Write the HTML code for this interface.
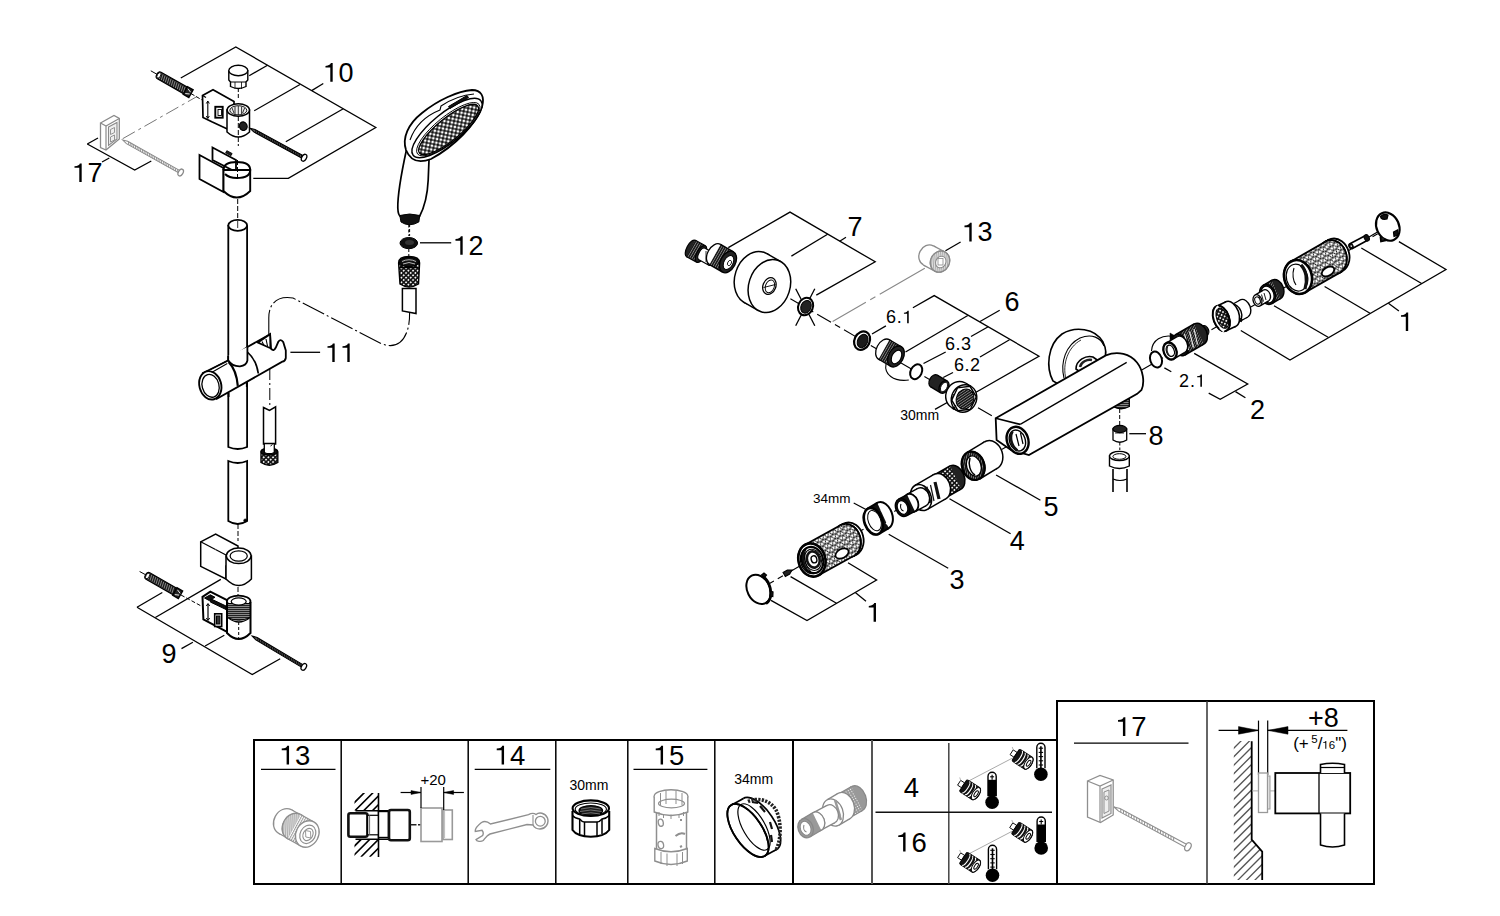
<!DOCTYPE html>
<html><head><meta charset="utf-8"><style>
html,body{margin:0;padding:0;background:#fff;width:1500px;height:916px;overflow:hidden}
svg{display:block;font-family:"Liberation Sans",sans-serif;font-kerning:none}
</style></head><body>
<svg width="1500" height="916" viewBox="0 0 1500 916" font-family="Liberation Sans, sans-serif">
<rect width="1500" height="916" fill="#fff"/>
<g id="table">
<line x1="253" y1="740" x2="1057" y2="740" stroke="#000" stroke-width="2" stroke-linecap="butt"/>
<line x1="254" y1="739" x2="254" y2="885" stroke="#000" stroke-width="2" stroke-linecap="butt"/>
<line x1="253" y1="884" x2="1375" y2="884" stroke="#000" stroke-width="2" stroke-linecap="butt"/>
<line x1="1056" y1="701" x2="1375" y2="701" stroke="#000" stroke-width="2" stroke-linecap="butt"/>
<line x1="1057" y1="700" x2="1057" y2="885" stroke="#000" stroke-width="2" stroke-linecap="butt"/>
<line x1="1374" y1="700" x2="1374" y2="885" stroke="#000" stroke-width="2" stroke-linecap="butt"/>
<line x1="341.2" y1="740" x2="341.2" y2="884" stroke="#000" stroke-width="1.5" stroke-linecap="butt"/>
<line x1="468.2" y1="740" x2="468.2" y2="884" stroke="#000" stroke-width="1.5" stroke-linecap="butt"/>
<line x1="555.8" y1="740" x2="555.8" y2="884" stroke="#000" stroke-width="1.5" stroke-linecap="butt"/>
<line x1="627.8" y1="740" x2="627.8" y2="884" stroke="#000" stroke-width="1.5" stroke-linecap="butt"/>
<line x1="714.8" y1="740" x2="714.8" y2="884" stroke="#000" stroke-width="1.5" stroke-linecap="butt"/>
<line x1="793" y1="740" x2="793" y2="884" stroke="#000" stroke-width="2" stroke-linecap="butt"/>
<line x1="872" y1="740" x2="872" y2="884" stroke="#555" stroke-width="2" stroke-linecap="butt"/>
<line x1="1207" y1="701" x2="1207" y2="884" stroke="#333" stroke-width="1.5" stroke-linecap="butt"/>
<line x1="948.8" y1="743" x2="948.8" y2="884" stroke="#444" stroke-width="1.5" stroke-linecap="butt"/>
<line x1="875.5" y1="812.3" x2="1052" y2="812.3" stroke="#111" stroke-width="1.5" stroke-linecap="butt"/>
<text x="279.71" y="764.6" font-size="27.5" fill="#000" > 3</text>
<path class="t1" d="M286.62,764.60 L289.05,764.60 L289.05,745.68 L287.23,745.68 C286.96,747.14 285.35,748.29 281.72,748.49 L281.72,750.17 L286.62,750.17 Z" fill="#000"/>
<line x1="261" y1="769.4" x2="335.5" y2="769.4" stroke="#000" stroke-width="1.3" stroke-linecap="butt"/>
<text x="494.71" y="764.6" font-size="27.5" fill="#000" > 4</text>
<path class="t1" d="M501.62,764.60 L504.05,764.60 L504.05,745.68 L502.23,745.68 C501.96,747.14 500.35,748.29 496.72,748.49 L496.72,750.17 L501.62,750.17 Z" fill="#000"/>
<line x1="474.7" y1="769.4" x2="550.3" y2="769.4" stroke="#000" stroke-width="1.3" stroke-linecap="butt"/>
<text x="653.71" y="764.6" font-size="27.5" fill="#000" > 5</text>
<path class="t1" d="M660.62,764.60 L663.05,764.60 L663.05,745.68 L661.23,745.68 C660.96,747.14 659.35,748.29 655.72,748.49 L655.72,750.17 L660.62,750.17 Z" fill="#000"/>
<line x1="633.5" y1="769.4" x2="707.4" y2="769.4" stroke="#000" stroke-width="1.3" stroke-linecap="butt"/>
<text x="1116.01" y="736.1" font-size="27.5" fill="#000" > 7</text>
<path class="t1" d="M1122.92,736.10 L1125.35,736.10 L1125.35,717.18 L1123.53,717.18 C1123.26,718.64 1121.65,719.79 1118.02,719.99 L1118.02,721.67 L1122.92,721.67 Z" fill="#000"/>
<line x1="1074" y1="743.2" x2="1188.5" y2="743.2" stroke="#000" stroke-width="1.3" stroke-linecap="butt"/>
<text x="911.5" y="796.6" font-size="27.5" text-anchor="middle" fill="#000" >4</text>
<text x="896.21" y="851.5" font-size="27.5" fill="#000" > 6</text>
<path class="t1" d="M903.12,851.50 L905.55,851.50 L905.55,832.58 L903.73,832.58 C903.46,834.04 901.85,835.19 898.22,835.39 L898.22,837.07 L903.12,837.07 Z" fill="#000"/>
<text x="589" y="790.4" font-size="14" text-anchor="middle" fill="#000" >30mm</text>
<text x="753.7" y="784.3" font-size="14" text-anchor="middle" fill="#000" >34mm</text>
<text x="433.2" y="784.9" font-size="15" text-anchor="middle" fill="#000" >+20</text>
<text x="1323.3" y="727" font-size="27" text-anchor="middle" fill="#000" >+8</text>
<text x="1293.2" y="748.8" font-size="17">(+<tspan font-size="11.5" dx="2.5" dy="-6">5</tspan><tspan dy="6">/</tspan><tspan font-size="11.5"> 6</tspan>")</text>
<path class="t1" d="M1325.30,748.80 L1326.32,748.80 L1326.32,740.89 L1325.55,740.89 C1325.44,741.50 1324.77,741.98 1323.25,742.06 L1323.25,742.76 L1325.30,742.76 Z" fill="#000"/>
</g>
<defs>
<pattern id="dots" width="3" height="3" patternUnits="userSpaceOnUse"><rect width="3" height="3" fill="#111"/><circle cx="1.5" cy="1.5" r="0.7" fill="#fff"/></pattern>
<pattern id="thread" width="2.2" height="4" patternUnits="userSpaceOnUse" patternTransform="rotate(30)"><rect width="2.2" height="4" fill="#1a1a1a"/><rect width="0.5" height="4" fill="#bbb"/></pattern>
<pattern id="threadv" width="4" height="2" patternUnits="userSpaceOnUse"><rect width="4" height="2" fill="#222"/><rect width="4" height="0.6" fill="#ccc"/></pattern>
<pattern id="tri" width="5.6" height="4.85" patternUnits="userSpaceOnUse" patternTransform="rotate(-28)"><rect width="5.6" height="4.85" fill="#fff"/><path d="M-1,0 L6.6,0 M0,0 L2.8,4.85 L5.6,0 M-1,4.85 L6.6,4.85 M-2.8,4.85 L0,0 M5.6,0 L8.4,4.85" stroke="#000" stroke-width="0.85" fill="none"/></pattern>
<pattern id="knurl" width="2.6" height="2.6" patternUnits="userSpaceOnUse" patternTransform="rotate(-30)"><rect width="2.6" height="2.6" fill="#fff"/><circle cx="1.3" cy="1.3" r="0.75" fill="#222"/></pattern>
<pattern id="greythread" width="2" height="2" patternUnits="userSpaceOnUse" patternTransform="rotate(60)"><rect width="2" height="2" fill="#aaa"/><rect width="2" height="0.8" fill="#eee"/></pattern>
<pattern id="gknurl" width="2.6" height="2.6" patternUnits="userSpaceOnUse" patternTransform="rotate(-30)"><rect width="2.6" height="2.6" fill="#999"/><circle cx="1.3" cy="1.3" r="0.55" fill="#fff"/></pattern>
<pattern id="greythread2" width="2.2" height="4" patternUnits="userSpaceOnUse" patternTransform="rotate(28)"><rect width="2.2" height="4" fill="#fff"/><rect width="1" height="4" fill="#999"/></pattern>
<pattern id="spray" width="3.8" height="3.8" patternUnits="userSpaceOnUse" patternTransform="rotate(-40)"><rect width="3.8" height="3.8" fill="#111"/><circle cx="1.9" cy="1.9" r="1.4" fill="#fff"/></pattern>
<pattern id="dots2" width="3.3" height="3.3" patternUnits="userSpaceOnUse" patternTransform="rotate(45)"><rect width="3.3" height="3.3" fill="#111"/><circle cx="1.65" cy="1.65" r="0.95" fill="#fff"/></pattern>
</defs>
<g id="left">
<polyline points="180.8,78 235.8,47 375.8,127.5 288.3,178.3 253.3,178.3" fill="none" stroke="#000" stroke-width="1.3" stroke-linejoin="miter"/>
<line x1="249.2" y1="75.8" x2="267.5" y2="65.2" stroke="#000" stroke-width="1.3" stroke-linecap="butt"/>
<line x1="254.2" y1="110.8" x2="300" y2="84.5" stroke="#000" stroke-width="1.3" stroke-linecap="butt"/>
<line x1="285.8" y1="141.7" x2="343.3" y2="108.8" stroke="#000" stroke-width="1.3" stroke-linecap="butt"/>
<line x1="311.7" y1="90.6" x2="323.3" y2="83.5" stroke="#000" stroke-width="1.3" stroke-linecap="butt"/>
<text x="323.50" y="81.7" font-size="27" fill="#000" > 0</text>
<path class="t1" d="M330.29,81.70 L332.68,81.70 L332.68,63.12 L330.88,63.12 C330.62,64.56 329.04,65.68 325.48,65.88 L325.48,67.53 L330.29,67.53 Z" fill="#000"/>
<line x1="122.7" y1="138.7" x2="197" y2="96.5" stroke="#777" stroke-width="1" stroke-dasharray="14 4 3 4" stroke-linecap="butt"/>
<line x1="150.8" y1="70.8" x2="157" y2="74.3" stroke="#000" stroke-width="1" stroke-linecap="butt"/>
<g transform="translate(157,74.3) rotate(29.6)">
<rect x="0" y="-3.8" width="34.1" height="7.5" fill="#1a1a1a" stroke="#000" stroke-width="1.2" rx="2.5" />
<path d="M3.0,-3.0 l1.3,5.9 M5.3,-3.0 l1.3,5.9 M7.6,-3.0 l1.3,5.9 M9.9,-3.0 l1.3,5.9 M12.2,-3.0 l1.3,5.9 M14.5,-3.0 l1.3,5.9 M16.8,-3.0 l1.3,5.9 M19.1,-3.0 l1.3,5.9 M21.4,-3.0 l1.3,5.9 M23.7,-3.0 l1.3,5.9 M26.0,-3.0 l1.3,5.9 M28.3,-3.0 l1.3,5.9 M30.6,-3.0 l1.3,5.9" fill="none" stroke="#bbb" stroke-width="0.6" />
<ellipse cx="2.2" cy="0" rx="1.6" ry="3.1" fill="#fff" stroke="#000" stroke-width="0.8" />
<rect x="32.6" y="-4.3" width="6.5" height="8.7" fill="#222" stroke="#000" stroke-width="1.4" />
<path d="M34.09590771423526,-2.75 L38.09590771423526,-1 M34.09590771423526,2.75 L38.09590771423526,1" fill="none" stroke="#fff" stroke-width="0.8" />
</g>
<line x1="191" y1="93.6" x2="203" y2="100.5" stroke="#000" stroke-width="1" stroke-dasharray="4 2" stroke-linecap="butt"/>
<line x1="238.3" y1="88" x2="238.3" y2="100" stroke="#000" stroke-width="1" stroke-dasharray="4 2" stroke-linecap="butt"/>
<path d="M228.8,71 L228.8,80 L230.5,82 L230.5,86.5 Q238.3,90.5 246,86.5 L246,82 L247.8,80 L247.8,71 Z" fill="#fff" stroke="#000" stroke-width="1.4" />
<ellipse cx="238.3" cy="70.5" rx="9.5" ry="5.2" fill="#fff" stroke="#000" stroke-width="1.4" />
<line x1="230.5" y1="82" x2="246" y2="82" stroke="#000" stroke-width="1" stroke-linecap="butt"/>
<line x1="235" y1="82" x2="235" y2="89" stroke="#000" stroke-width="0.8" stroke-linecap="butt"/>
<line x1="241.5" y1="82" x2="241.5" y2="89" stroke="#000" stroke-width="0.8" stroke-linecap="butt"/>
<path d="M202.5,95.5 L213,89.8 L234,101.5 L234,131 L226.8,128.7 L211.8,121.8 L203,117.5 Z" fill="#fff" stroke="#000" stroke-width="1.7" />
<line x1="202.5" y1="95.5" x2="206" y2="97.5" stroke="#000" stroke-width="1.2" stroke-linecap="butt"/>
<line x1="207.8" y1="101.5" x2="207.8" y2="118" stroke="#000" stroke-width="1.1" stroke-linecap="butt"/>
<path d="M206.3,103.5 L207.8,101 L209.3,103.5 M206.3,116 L207.8,118.5 L209.3,116" fill="none" stroke="#000" stroke-width="1" />
<rect x="215.3" y="106.8" width="7.4" height="10.9" fill="#fff" stroke="#000" stroke-width="1.9" />
<rect x="218" y="109.5" width="3.5" height="6" fill="#fff" stroke="#000" stroke-width="0.9" />
<path d="M227,110 L227,132 Q238.3,142 249.5,132 L249.5,110 Z" fill="#fff" stroke="#000" stroke-width="1.5" />
<ellipse cx="238.3" cy="110" rx="11.2" ry="6.3" fill="#fff" stroke="#000" stroke-width="1.5" />
<ellipse cx="238.3" cy="110.3" rx="8.5" ry="4.6" fill="#eee" stroke="#000" stroke-width="0.9" />
<path d="M238.3,106 L238.3,115 M232,108 L234,113 M244.6,108 L242.6,113 M235,106.5 l0,8 M241.6,106.5 l0,8" fill="none" stroke="#000" stroke-width="0.8" />
<ellipse cx="243.3" cy="126.2" rx="3.8" ry="4.3" fill="#222" stroke="#000" stroke-width="1.2" transform="rotate(-20 243.3 126.2)" />
<line x1="238.3" y1="116" x2="238.3" y2="146" stroke="#000" stroke-width="1" stroke-dasharray="5 2" stroke-linecap="butt"/>
<g transform="translate(250,128.3) rotate(28.6)">
<path d="M0,0 L5,-1.4 L60.5732142610231,-1.4 L60.5732142610231,1.4 L5,1.4 Z" fill="#555" stroke="#000" stroke-width="1" />
<path d="M6.0,-1.4 l1.2,2.8 M8.0,-1.4 l1.2,2.8 M10.0,-1.4 l1.2,2.8 M12.0,-1.4 l1.2,2.8 M14.0,-1.4 l1.2,2.8 M16.0,-1.4 l1.2,2.8 M18.0,-1.4 l1.2,2.8 M20.0,-1.4 l1.2,2.8 M22.0,-1.4 l1.2,2.8 M24.0,-1.4 l1.2,2.8 M26.0,-1.4 l1.2,2.8 M28.0,-1.4 l1.2,2.8 M30.0,-1.4 l1.2,2.8 M32.0,-1.4 l1.2,2.8 M34.0,-1.4 l1.2,2.8 M36.0,-1.4 l1.2,2.8 M38.0,-1.4 l1.2,2.8 M40.0,-1.4 l1.2,2.8 M42.0,-1.4 l1.2,2.8 M44.0,-1.4 l1.2,2.8 M46.0,-1.4 l1.2,2.8 M48.0,-1.4 l1.2,2.8 M50.0,-1.4 l1.2,2.8 M52.0,-1.4 l1.2,2.8 M54.0,-1.4 l1.2,2.8 M56.0,-1.4 l1.2,2.8 M58.0,-1.4 l1.2,2.8" fill="none" stroke="#000" stroke-width="0.9" />
<ellipse cx="61.6" cy="0" rx="2.3" ry="3.7" fill="#fff" stroke="#000" stroke-width="1.3" />
</g>
<path d="M212.5,147.5 L236,160 L236,172 L212.5,160 Z" fill="#fff" stroke="#000" stroke-width="1.8" />
<rect x="226" y="152" width="6" height="2.4" fill="#222" stroke="#000" stroke-width="0.8" transform="rotate(28 229 153)"/>
<path d="M199.5,155 L223.5,168 L223.5,192 L199.5,179 Z" fill="#fff" stroke="#000" stroke-width="1.8" />
<path d="M223.5,170 L223.5,191 Q236.8,204 250.2,191 L250.2,170 Z" fill="#fff" stroke="#000" stroke-width="1.9" />
<path d="M223.5,170 Q223.5,162 236.8,162 Q250.2,162 250.2,170 Q250.2,178 236.8,178 Q229,178 225,174" fill="none" stroke="#000" stroke-width="2" />
<line x1="237.5" y1="160" x2="237.5" y2="180" stroke="#000" stroke-width="1" stroke-dasharray="5 2" stroke-linecap="butt"/>
<line x1="87.3" y1="144" x2="98" y2="138" stroke="#000" stroke-width="1.3" stroke-linecap="butt"/>
<polyline points="87.3,144 134.7,170 151.3,161" fill="none" stroke="#000" stroke-width="1.3" stroke-linejoin="miter"/>
<line x1="102" y1="162" x2="109.3" y2="158" stroke="#000" stroke-width="1.3" stroke-linecap="butt"/>
<text x="72.50" y="182" font-size="27" fill="#000" > 7</text>
<path class="t1" d="M79.29,182.00 L81.68,182.00 L81.68,163.42 L79.88,163.42 C79.62,164.86 78.04,165.98 74.48,166.18 L74.48,167.83 L79.29,167.83 Z" fill="#000"/>
<path d="M100.5,123 L114,115.5 L119.3,118.5 L119.3,139 L106,150 L100.5,147.5 Z" fill="#fff" stroke="#8a8a8a" stroke-width="1.3" />
<line x1="100.5" y1="123" x2="106" y2="126" stroke="#8a8a8a" stroke-width="1.2" stroke-linecap="butt"/>
<line x1="106" y1="126" x2="119.3" y2="118.5" stroke="#8a8a8a" stroke-width="1.2" stroke-linecap="butt"/>
<line x1="106" y1="126" x2="106" y2="150" stroke="#8a8a8a" stroke-width="1.2" stroke-linecap="butt"/>
<path d="M108.5,127 L117,122.5 L117,139 L108.5,145.5 Z" fill="#eee" stroke="#8a8a8a" stroke-width="1.1" />
<path d="M110.5,129.5 L114.5,127.5 L114.5,132.5 L110.5,134.5 Z M110.5,137 L114.5,135 L114.5,140 L110.5,142 Z" fill="none" stroke="#8a8a8a" stroke-width="0.9" />
<g transform="translate(122.7,140) rotate(29.3)">
<path d="M0,0 L5,-1.3 L65.48640154735314,-1.3 L65.48640154735314,1.3 L5,1.3 Z" fill="#fff" stroke="#8a8a8a" stroke-width="1" />
<path d="M6.0,-1.3 l1.2,2.6 M8.0,-1.3 l1.2,2.6 M10.0,-1.3 l1.2,2.6 M12.0,-1.3 l1.2,2.6 M14.0,-1.3 l1.2,2.6 M16.0,-1.3 l1.2,2.6 M18.0,-1.3 l1.2,2.6 M20.0,-1.3 l1.2,2.6 M22.0,-1.3 l1.2,2.6 M24.0,-1.3 l1.2,2.6 M26.0,-1.3 l1.2,2.6 M28.0,-1.3 l1.2,2.6 M30.0,-1.3 l1.2,2.6 M32.0,-1.3 l1.2,2.6 M34.0,-1.3 l1.2,2.6 M36.0,-1.3 l1.2,2.6 M38.0,-1.3 l1.2,2.6 M40.0,-1.3 l1.2,2.6 M42.0,-1.3 l1.2,2.6 M44.0,-1.3 l1.2,2.6 M46.0,-1.3 l1.2,2.6 M48.0,-1.3 l1.2,2.6 M50.0,-1.3 l1.2,2.6 M52.0,-1.3 l1.2,2.6 M54.0,-1.3 l1.2,2.6 M56.0,-1.3 l1.2,2.6 M58.0,-1.3 l1.2,2.6 M60.0,-1.3 l1.2,2.6 M62.0,-1.3 l1.2,2.6" fill="none" stroke="#8a8a8a" stroke-width="0.9" />
<ellipse cx="66.5" cy="0" rx="2.3" ry="3.7" fill="#fff" stroke="#8a8a8a" stroke-width="1.3" />
</g>
<line x1="237.7" y1="199" x2="237.7" y2="225" stroke="#000" stroke-width="1" stroke-dasharray="5 2" stroke-linecap="butt"/>
<path d="M228.3,225 L228.3,447 Q237.7,451 247.1,447 L247.1,225" fill="#fff" stroke="#000" stroke-width="1.8" />
<ellipse cx="237.7" cy="225.3" rx="9.4" ry="5.5" fill="#fff" stroke="#000" stroke-width="1.8" />
<line x1="237.7" y1="221" x2="237.7" y2="228" stroke="#000" stroke-width="0.8" stroke-linecap="butt"/>
<path d="M228.3,461 Q237.7,465 247.1,461 L247.1,521 Q237.7,527 228.3,521 Z" fill="#fff" stroke="#000" stroke-width="1.8" />
<ellipse cx="245.3" cy="520.5" rx="1.6" ry="1.6" fill="#000" stroke="#000" stroke-width="0.6" />
<path d="M268.8,334 L268.8,318 C268.8,300 281,296 293,298 L381,343.5 C398,351 410,338 409.6,313" fill="none" stroke="#000" stroke-width="1.1" stroke-dasharray="24 3 2 3"/>
<path d="M203,373 L228.2,360.5 L247.4,347 L270.1,334.2 L271,348.6 Q273.6,352 275.8,347.5 L278.3,341.8 Q280.8,338.2 283.2,342 L285.8,350.5 L285.8,358 Q285.2,361.2 282.3,361.7 L216.8,398.8 Z" fill="#fff" stroke="#000" stroke-width="1.8" />
<path d="M257.9,342.5 L270.1,334.2 L270.4,348.2 Z" fill="#fff" stroke="#000" stroke-width="1.8" />
<path d="M262,341.5 L264,345.5 M266,339 L267.5,346" fill="none" stroke="#000" stroke-width="1.1" />
<path d="M228.2,356 L228.2,360.3 Q232,366.5 240,366.3 Q246.5,365.5 247.4,360.5 L247.4,347" fill="#fff" stroke="#000" stroke-width="1.8" />
<line x1="228.6" y1="393" x2="228.6" y2="397" stroke="#000" stroke-width="1.8" stroke-linecap="butt"/>
<line x1="246.8" y1="383" x2="246.8" y2="387" stroke="#000" stroke-width="1.8" stroke-linecap="butt"/>
<ellipse cx="210.3" cy="385.3" rx="10.9" ry="14.4" fill="#fff" stroke="#000" stroke-width="1.9" transform="rotate(-15 210.3 385.3)" />
<ellipse cx="210.6" cy="385.8" rx="8.4" ry="11.6" fill="#fff" stroke="#000" stroke-width="1.3" transform="rotate(-15 210.6 385.8)" />
<path d="M228.6,361.9 Q236.5,370 237.8,385.8" fill="none" stroke="#000" stroke-width="2.2" />
<path d="M247.4,352.1 Q256.5,360 258.3,373.5" fill="none" stroke="#000" stroke-width="1.7" />
<path d="M210.7,369.5 L226.9,360.8 M211.6,372.4 L227.3,363.6" fill="none" stroke="#000" stroke-width="1.1" />
<line x1="290.4" y1="352.3" x2="320.1" y2="352.3" stroke="#000" stroke-width="1.3" stroke-linecap="butt"/>
<text x="325.50" y="362" font-size="27" fill="#000" >  </text>
<path class="t1" d="M332.29,362.00 L334.68,362.00 L334.68,343.42 L332.88,343.42 C332.62,344.86 331.04,345.98 327.48,346.18 L327.48,347.83 L332.29,347.83 Z" fill="#000"/>
<path class="t1" d="M347.31,362.00 L349.69,362.00 L349.69,343.42 L347.90,343.42 C347.64,344.86 346.05,345.98 342.49,346.18 L342.49,347.83 L347.31,347.83 Z" fill="#000"/>
<line x1="269.8" y1="368" x2="269.8" y2="408" stroke="#000" stroke-width="1" stroke-dasharray="12 3 2 3" stroke-linecap="butt"/>
<path d="M263.5,407.5 L269.5,410.5 L275.6,406.8 L275.6,444 L263.5,444 Z" fill="#fff" stroke="#000" stroke-width="1.5" />
<path d="M261,452 Q261,448.5 269.3,448.5 Q277.8,448.5 277.8,452 L277.8,462.5 Q269.3,468 261,462.5 Z" fill="url(#dots2)" stroke="#000" stroke-width="1.4" />
<ellipse cx="269.3" cy="451.8" rx="8.3" ry="3.4" fill="#111" stroke="#000" stroke-width="1.3" />
<path d="M264.3,443.5 L264.3,452.5 Q269.3,455 274.3,452.5 L274.3,443.5 Z" fill="#fff" stroke="#000" stroke-width="1.3" />
<line x1="270.5" y1="446" x2="272.5" y2="444.5" stroke="#000" stroke-width="1" stroke-linecap="butt"/>
<line x1="408.8" y1="224.5" x2="408.8" y2="236" stroke="#000" stroke-width="1" stroke-dasharray="3 2" stroke-linecap="butt"/>
<line x1="408.8" y1="249" x2="408.8" y2="256" stroke="#000" stroke-width="1" stroke-dasharray="3 2" stroke-linecap="butt"/>
<ellipse cx="408.8" cy="243.1" rx="8.8" ry="5.6" fill="#111" stroke="#000" stroke-width="1" />
<ellipse cx="409.5" cy="242.6" rx="4.5" ry="2.5" fill="#333" stroke="none" stroke-width="0" />
<line x1="420" y1="242.8" x2="451.2" y2="242.8" stroke="#000" stroke-width="1.3" stroke-linecap="butt"/>
<text x="453.50" y="254.8" font-size="27" fill="#000" > 2</text>
<path class="t1" d="M460.29,254.80 L462.68,254.80 L462.68,236.22 L460.88,236.22 C460.62,237.66 459.04,238.78 455.48,238.98 L455.48,240.63 L460.29,240.63 Z" fill="#000"/>
<path d="M398.6,263 Q398.6,256.5 409,256.5 Q419.6,256.5 419.6,263 L418.5,284 Q409,290 400,284 Z" fill="url(#dots2)" stroke="#000" stroke-width="1.4" />
<ellipse cx="409" cy="262" rx="9.5" ry="4.6" fill="#111" stroke="#000" stroke-width="1.2" />
<line x1="400" y1="267.5" x2="418" y2="267.5" stroke="#000" stroke-width="1.6" stroke-linecap="butt"/>
<path d="M402,261.5 Q409,258 416,261.5 M403,264 Q409,261 415,264" fill="none" stroke="#fff" stroke-width="0.7" />
<path d="M402.4,288.5 L416,288.5 L416,313.5 L402.4,311 Z" fill="#fff" stroke="#000" stroke-width="1.5" />
<line x1="409.6" y1="224" x2="409.6" y2="236" stroke="#000" stroke-width="1" stroke-dasharray="3 2" stroke-linecap="butt"/>
<path d="M406.4,150 C401,175 397.5,195 397.8,208 C398,213 399.5,216 400.5,216.5 L419.5,216.5 C424,208 427.5,195 428.2,180 L429,159.7 Z" fill="#fff" stroke="#000" stroke-width="1.7" />
<path d="M399.8,215.5 Q409.5,212.5 419.8,215.5 L418.8,222 Q409.3,227.5 401,222 Z" fill="#111" stroke="#000" stroke-width="1" />
<path d="M406,150 C402,138 408,124 422,113 C438,100 458,91 472,90 C481,90 485,96 482,107 C476,124 455,146 431,159 C418,164 410,160 406,150 Z" fill="#fff" stroke="#000" stroke-width="1.8" />
<ellipse cx="447" cy="128" rx="43.5" ry="14.8" fill="#fff" stroke="#000" stroke-width="1.5" transform="rotate(-39 447 128)" />
<ellipse cx="448.3" cy="129.2" rx="39.5" ry="12.6" fill="none" stroke="#000" stroke-width="0.9" transform="rotate(-39 448.3 129.2)" />
<ellipse cx="448.6" cy="129.5" rx="37.5" ry="11.2" fill="url(#spray)" stroke="#000" stroke-width="1.4" transform="rotate(-39 448.6 129.5)" />
<path d="M410,140 C415,126 425,116 440,110 L441,106 C450,100 462,95 474,94" fill="none" stroke="#000" stroke-width="1.1" />
<path d="M448.5,106.5 L467,95.5 L468.5,97.5 L450,108.5 Z" fill="#111" stroke="#000" stroke-width="1" />
</g>
<g id="p9">
<line x1="238" y1="524" x2="238" y2="541" stroke="#000" stroke-width="1" stroke-dasharray="5 2" stroke-linecap="butt"/>
<line x1="238" y1="587" x2="238" y2="600" stroke="#000" stroke-width="1" stroke-dasharray="5 2" stroke-linecap="butt"/>
<path d="M200.7,541.8 L215.6,534 L238,546 L238,560 L226,566 L226,579 L200.7,566.3 Z" fill="#fff" stroke="#000" stroke-width="1.5" />
<line x1="200.7" y1="541.8" x2="215.5" y2="549.5" stroke="#000" stroke-width="1.2" stroke-linecap="butt"/>
<line x1="215.5" y1="549.5" x2="226" y2="555" stroke="#000" stroke-width="1.2" stroke-linecap="butt"/>
<path d="M226,556 L226,579 Q238.7,592 251.4,579 L251.4,556 Z" fill="#fff" stroke="#000" stroke-width="1.5" />
<ellipse cx="238.7" cy="555.8" rx="12.4" ry="7.8" fill="#fff" stroke="#000" stroke-width="1.5" />
<ellipse cx="238.7" cy="556" rx="8.6" ry="5.2" fill="#fff" stroke="#000" stroke-width="1.2" />
<path d="M202.5,596.8 L210.3,591.6 L227,600 L227,631.8 L203.4,619.5 Z" fill="#fff" stroke="#000" stroke-width="2" />
<path d="M210.3,598.6 L226,606 L226,609.5 L210.3,602 Z" fill="#111" stroke="#000" stroke-width="1" />
<path d="M204.5,598 L210.3,594.8 L215,597.3 L209.2,600.5 Z" fill="#111" stroke="#000" stroke-width="1" />
<line x1="208" y1="604" x2="208" y2="620" stroke="#000" stroke-width="1.2" stroke-linecap="butt"/>
<path d="M206.3,606 L208,603.5 L209.7,606 M206.3,618 L208,620.5 L209.7,618" fill="none" stroke="#000" stroke-width="1" />
<rect x="214.7" y="613.8" width="7" height="12.7" fill="#fff" stroke="#000" stroke-width="1.6" />
<rect x="216.5" y="616" width="3.4" height="8" fill="#333" stroke="#000" stroke-width="1" />
<path d="M227,603 L227,633 Q238.7,645 250.5,633 L250.5,603 Z" fill="#fff" stroke="#000" stroke-width="2" />
<ellipse cx="238.7" cy="601.2" rx="11.8" ry="5.6" fill="#fff" stroke="#000" stroke-width="1.8" />
<path d="M227.5,603.5 L250,603.5 L250,617.5 Q238.7,623 227.5,617.5 Z" fill="url(#threadv)" stroke="#000" stroke-width="1" />
<ellipse cx="238.7" cy="601.5" rx="7.5" ry="3.6" fill="#fff" stroke="#000" stroke-width="1.2" />
<path d="M228.5,618 Q238.7,626 249.5,618" fill="none" stroke="#000" stroke-width="1.3" />
<line x1="238.7" y1="622" x2="238.7" y2="642" stroke="#000" stroke-width="1" stroke-dasharray="3 2" stroke-linecap="butt"/>
<line x1="139.6" y1="571.5" x2="145.7" y2="574.8" stroke="#000" stroke-width="1" stroke-linecap="butt"/>
<g transform="translate(145.7,574.8) rotate(29.8)">
<rect x="0" y="-3.8" width="35.1" height="7.5" fill="#1a1a1a" stroke="#000" stroke-width="1.2" rx="2.5" />
<path d="M3.0,-3.0 l1.3,5.9 M5.3,-3.0 l1.3,5.9 M7.6,-3.0 l1.3,5.9 M9.9,-3.0 l1.3,5.9 M12.2,-3.0 l1.3,5.9 M14.5,-3.0 l1.3,5.9 M16.8,-3.0 l1.3,5.9 M19.1,-3.0 l1.3,5.9 M21.4,-3.0 l1.3,5.9 M23.7,-3.0 l1.3,5.9 M26.0,-3.0 l1.3,5.9 M28.3,-3.0 l1.3,5.9 M30.6,-3.0 l1.3,5.9" fill="none" stroke="#bbb" stroke-width="0.6" />
<ellipse cx="2.2" cy="0" rx="1.6" ry="3.1" fill="#fff" stroke="#000" stroke-width="0.8" />
<rect x="33.6" y="-4.3" width="6.5" height="8.7" fill="#222" stroke="#000" stroke-width="1.4" />
<path d="M35.088028138086365,-2.75 L39.088028138086365,-1 M35.088028138086365,2.75 L39.088028138086365,1" fill="none" stroke="#fff" stroke-width="0.8" />
</g>
<line x1="181" y1="595" x2="203" y2="607" stroke="#000" stroke-width="1" stroke-dasharray="4 2" stroke-linecap="butt"/>
<g transform="translate(252.2,636.1) rotate(30.8)">
<path d="M0,0 L5,-1.4 L59.09461149733784,-1.4 L59.09461149733784,1.4 L5,1.4 Z" fill="#555" stroke="#000" stroke-width="1" />
<path d="M6.0,-1.4 l1.2,2.8 M8.0,-1.4 l1.2,2.8 M10.0,-1.4 l1.2,2.8 M12.0,-1.4 l1.2,2.8 M14.0,-1.4 l1.2,2.8 M16.0,-1.4 l1.2,2.8 M18.0,-1.4 l1.2,2.8 M20.0,-1.4 l1.2,2.8 M22.0,-1.4 l1.2,2.8 M24.0,-1.4 l1.2,2.8 M26.0,-1.4 l1.2,2.8 M28.0,-1.4 l1.2,2.8 M30.0,-1.4 l1.2,2.8 M32.0,-1.4 l1.2,2.8 M34.0,-1.4 l1.2,2.8 M36.0,-1.4 l1.2,2.8 M38.0,-1.4 l1.2,2.8 M40.0,-1.4 l1.2,2.8 M42.0,-1.4 l1.2,2.8 M44.0,-1.4 l1.2,2.8 M46.0,-1.4 l1.2,2.8 M48.0,-1.4 l1.2,2.8 M50.0,-1.4 l1.2,2.8 M52.0,-1.4 l1.2,2.8 M54.0,-1.4 l1.2,2.8 M56.0,-1.4 l1.2,2.8" fill="none" stroke="#000" stroke-width="0.9" />
<ellipse cx="60.1" cy="0" rx="2.3" ry="3.7" fill="#fff" stroke="#000" stroke-width="1.3" />
</g>
<line x1="137" y1="607.3" x2="162.3" y2="592.5" stroke="#000" stroke-width="1.3" stroke-linecap="butt"/>
<polyline points="137,607.3 252.2,674.6 280.2,658.8" fill="none" stroke="#000" stroke-width="1.3" stroke-linejoin="miter"/>
<line x1="155.3" y1="617.5" x2="220.8" y2="579.4" stroke="#000" stroke-width="1.3" stroke-linecap="butt"/>
<line x1="205.1" y1="646" x2="224.3" y2="635.3" stroke="#000" stroke-width="1.3" stroke-linecap="butt"/>
<line x1="181.5" y1="648.6" x2="192.9" y2="642.2" stroke="#000" stroke-width="1.3" stroke-linecap="butt"/>
<text x="161.5" y="663.2" font-size="27" text-anchor="start" fill="#000" >9</text>
</g>
<g id="right">
<line x1="736.8" y1="267.5" x2="996" y2="418.2" stroke="#000" stroke-width="1.1" stroke-dasharray="16 4.5 6 4.5" stroke-linecap="butt"/>
<line x1="760" y1="589" x2="1006" y2="447" stroke="#000" stroke-width="1.1" stroke-dasharray="16 4.5 6 4.5" stroke-linecap="butt"/>
<line x1="1140" y1="371" x2="1386" y2="229" stroke="#000" stroke-width="1.1" stroke-dasharray="16 4.5 6 4.5" stroke-linecap="butt"/>
<polyline points="728.3,247.6 790,212.1 875.2,261.8 816.3,295.1" fill="none" stroke="#000" stroke-width="1.3" stroke-linejoin="miter"/>
<line x1="791.4" y1="256.1" x2="827.6" y2="234.2" stroke="#000" stroke-width="1.3" stroke-linecap="butt"/>
<line x1="839.7" y1="241.2" x2="846" y2="237.3" stroke="#000" stroke-width="1.3" stroke-linecap="butt"/>
<text x="847.5" y="236.2" font-size="27" text-anchor="start" fill="#000" >7</text>
<ellipse cx="691" cy="248.5" rx="4.2" ry="9.3" fill="#222" stroke="#000" stroke-width="1.2" transform="rotate(28 691 248.5)" />
<polygon points="695.4,240.3 705.4,245.8 696.6,262.2 686.6,256.7" fill="url(#thread)" stroke="none" stroke-width="0" stroke-linejoin="miter"/>
<line x1="695.4" y1="240.3" x2="705.4" y2="245.8" stroke="#000" stroke-width="1.2" stroke-linecap="butt"/>
<line x1="686.6" y1="256.7" x2="696.6" y2="262.2" stroke="#000" stroke-width="1.2" stroke-linecap="butt"/>
<ellipse cx="701" cy="254" rx="4.2" ry="9.3" fill="#222" stroke="#000" stroke-width="1.2" transform="rotate(28 701 254)" />
<ellipse cx="702" cy="254" rx="3.2" ry="6.5" fill="#fff" stroke="#000" stroke-width="1.2" transform="rotate(28 702 254)" />
<polygon points="705.1,248.3 715.1,253.8 708.9,265.2 698.9,259.7" fill="#fff" stroke="none" stroke-width="0" stroke-linejoin="miter"/>
<line x1="705.1" y1="248.3" x2="715.1" y2="253.8" stroke="#000" stroke-width="1.2" stroke-linecap="butt"/>
<line x1="698.9" y1="259.7" x2="708.9" y2="265.2" stroke="#000" stroke-width="1.2" stroke-linecap="butt"/>
<ellipse cx="712" cy="259.5" rx="3.2" ry="6.5" fill="#fff" stroke="#000" stroke-width="1.2" transform="rotate(28 712 259.5)" />
<path d="M706,251 L706,262 M709,252.5 L709,263" fill="none" stroke="#000" stroke-width="0.8" />
<ellipse cx="715" cy="254.5" rx="7.5" ry="11.5" fill="#fff" stroke="#000" stroke-width="1.3" transform="rotate(28 715 254.5)" />
<polygon points="720.5,244.4 733.5,251.9 722.5,272.1 709.5,264.6" fill="url(#thread)" stroke="none" stroke-width="0" stroke-linejoin="miter"/>
<line x1="720.5" y1="244.4" x2="733.5" y2="251.9" stroke="#000" stroke-width="1.3" stroke-linecap="butt"/>
<line x1="709.5" y1="264.6" x2="722.5" y2="272.1" stroke="#000" stroke-width="1.3" stroke-linecap="butt"/>
<ellipse cx="728" cy="262" rx="7.5" ry="11.5" fill="#222" stroke="#000" stroke-width="1.3" transform="rotate(28 728 262)" />
<ellipse cx="728.5" cy="262.5" rx="4.5" ry="7.5" fill="#fff" stroke="#000" stroke-width="1" transform="rotate(28 728.5 262.5)" />
<ellipse cx="729.5" cy="263" rx="1.8" ry="2.8" fill="#fff" stroke="#000" stroke-width="0.8" transform="rotate(28 729.5 263)" />
<ellipse cx="755.5" cy="278" rx="20.6" ry="27" fill="#fff" stroke="#000" stroke-width="1.5" transform="rotate(18 755.5 278)" />
<polygon points="766.9,253.7 780.8,261.7 758,310.3 744.1,302.3" fill="#fff" stroke="none" stroke-width="0" stroke-linejoin="miter"/>
<line x1="766.9" y1="253.7" x2="780.8" y2="261.7" stroke="#000" stroke-width="1.5" stroke-linecap="butt"/>
<line x1="744.1" y1="302.3" x2="758" y2="310.3" stroke="#000" stroke-width="1.5" stroke-linecap="butt"/>
<ellipse cx="769.4" cy="286" rx="20.6" ry="27" fill="#fff" stroke="#000" stroke-width="1.5" transform="rotate(18 769.4 286)" />
<ellipse cx="769.4" cy="286" rx="6.4" ry="8.6" fill="#fff" stroke="#000" stroke-width="1.3" transform="rotate(21 769.4 286)" />
<ellipse cx="769.9" cy="286.3" rx="4.4" ry="6.6" fill="#fff" stroke="#000" stroke-width="0.9" transform="rotate(21 769.9 286.3)" />
<line x1="763.5" y1="287.5" x2="775.5" y2="284.5" stroke="#000" stroke-width="0.9" stroke-linecap="butt"/>
<line x1="795.7" y1="288.7" x2="814.8" y2="325.7" stroke="#000" stroke-width="1.3" stroke-linecap="butt"/>
<line x1="814.8" y1="288.7" x2="795.7" y2="325.7" stroke="#000" stroke-width="1.3" stroke-linecap="butt"/>
<ellipse cx="805.6" cy="306.5" rx="7.3" ry="9" fill="#fff" stroke="#000" stroke-width="2" transform="rotate(24 805.6 306.5)" />
<ellipse cx="806" cy="306.8" rx="5" ry="6.6" fill="#222" stroke="#000" stroke-width="1" transform="rotate(24 806 306.8)" />
<line x1="924.8" y1="268.3" x2="832.6" y2="321.4" stroke="#888" stroke-width="1.1" stroke-dasharray="52 5 6 5" stroke-linecap="butt"/>
<ellipse cx="928.5" cy="255.5" rx="9.4" ry="10.8" fill="#fff" stroke="#8a8a8a" stroke-width="1.3" transform="rotate(26 928.5 255.5)" />
<polygon points="933.5,245.9 945,252 935,271.2 923.5,265.1" fill="#fff" stroke="none" stroke-width="0" stroke-linejoin="miter"/>
<line x1="933.5" y1="245.9" x2="945" y2="252" stroke="#8a8a8a" stroke-width="1.3" stroke-linecap="butt"/>
<line x1="923.5" y1="265.1" x2="935" y2="271.2" stroke="#8a8a8a" stroke-width="1.3" stroke-linecap="butt"/>
<ellipse cx="940" cy="261.6" rx="9.4" ry="10.8" fill="#fff" stroke="#8a8a8a" stroke-width="1.3" transform="rotate(26 940 261.6)" />
<ellipse cx="940" cy="261.6" rx="9.4" ry="10.8" fill="url(#greythread)" stroke="#8a8a8a" stroke-width="1.3" transform="rotate(26 940 261.6)" />
<ellipse cx="940.8" cy="262" rx="5" ry="6" fill="#fff" stroke="#888" stroke-width="1" transform="rotate(26 940.8 262)" />
<rect x="938" y="258.5" width="5" height="6.5" fill="none" stroke="#888" stroke-width="0.8" />
<line x1="945.5" y1="250.8" x2="960.6" y2="242" stroke="#000" stroke-width="1.3" stroke-linecap="butt"/>
<text x="962.50" y="241.4" font-size="27" fill="#000" > 3</text>
<path class="t1" d="M969.29,241.40 L971.68,241.40 L971.68,222.82 L969.88,222.82 C969.62,224.26 968.04,225.38 964.48,225.58 L964.48,227.23 L969.29,227.23 Z" fill="#000"/>
<polyline points="912.9,307.8 934.2,295.6 1039,356.2 976,392.2" fill="none" stroke="#000" stroke-width="1.3" stroke-linejoin="miter"/>
<line x1="905.5" y1="352" x2="967.8" y2="315.5" stroke="#000" stroke-width="1.3" stroke-linecap="butt"/>
<line x1="971" y1="336.5" x2="988.2" y2="326.8" stroke="#000" stroke-width="1.3" stroke-linecap="butt"/>
<line x1="980" y1="357" x2="1009.5" y2="339.8" stroke="#000" stroke-width="1.3" stroke-linecap="butt"/>
<line x1="980" y1="321.5" x2="999.7" y2="310.2" stroke="#000" stroke-width="1.3" stroke-linecap="butt"/>
<text x="1004.5" y="311.1" font-size="27" text-anchor="start" fill="#000" >6</text>
<text x="886.00" y="323.2" font-size="18" fill="#000"  letter-spacing="0.8">6. </text>
<path class="t1" d="M907.14,323.20 L908.73,323.20 L908.73,310.82 L907.53,310.82 C907.36,311.77 906.30,312.52 903.93,312.65 L903.93,313.75 L907.14,313.75 Z" fill="#000"/>
<line x1="872" y1="334" x2="885.9" y2="325.9" stroke="#000" stroke-width="1.3" stroke-linecap="butt"/>
<text x="945.1" y="350.2" font-size="18" text-anchor="start" fill="#000"  letter-spacing="0.5">6.3</text>
<line x1="923.5" y1="363.5" x2="945.7" y2="352" stroke="#000" stroke-width="1.3" stroke-linecap="butt"/>
<text x="954.1" y="370.8" font-size="18" text-anchor="start" fill="#000"  letter-spacing="0.5">6.2</text>
<line x1="943.2" y1="377.5" x2="953" y2="372.5" stroke="#000" stroke-width="1.3" stroke-linecap="butt"/>
<text x="900.3" y="420" font-size="14" text-anchor="start" fill="#000" >30mm</text>
<line x1="935" y1="409.4" x2="948.1" y2="402" stroke="#000" stroke-width="1.3" stroke-linecap="butt"/>
<ellipse cx="862.1" cy="340.6" rx="7.6" ry="9.6" fill="#fff" stroke="#000" stroke-width="2.2" transform="rotate(26 862.1 340.6)" />
<ellipse cx="862.6" cy="341" rx="5" ry="7" fill="#1a1a1a" stroke="#000" stroke-width="1" transform="rotate(26 862.6 341)" />
<ellipse cx="884" cy="349.5" rx="7.4" ry="11.2" fill="#fff" stroke="#000" stroke-width="1.3" transform="rotate(28 884 349.5)" />
<polygon points="889.4,339.7 901.4,346.7 890.6,366.3 878.6,359.3" fill="url(#thread)" stroke="none" stroke-width="0" stroke-linejoin="miter"/>
<line x1="889.4" y1="339.7" x2="901.4" y2="346.7" stroke="#000" stroke-width="1.3" stroke-linecap="butt"/>
<line x1="878.6" y1="359.3" x2="890.6" y2="366.3" stroke="#000" stroke-width="1.3" stroke-linecap="butt"/>
<ellipse cx="896" cy="356.5" rx="7.4" ry="11.2" fill="#222" stroke="#000" stroke-width="1.3" transform="rotate(28 896 356.5)" />
<ellipse cx="896.5" cy="357" rx="4.6" ry="7.3" fill="#fff" stroke="#000" stroke-width="1.2" transform="rotate(28 896.5 357)" />
<path d="M886,364 C884,374 893,382 908.8,380" fill="none" stroke="#000" stroke-width="1.1" />
<ellipse cx="916.2" cy="371.7" rx="5.6" ry="7.8" fill="#fff" stroke="#000" stroke-width="2" transform="rotate(26 916.2 371.7)" />
<ellipse cx="934" cy="381" rx="4.5" ry="6.8" fill="#222" stroke="#000" stroke-width="1.3" transform="rotate(28 934 381)" />
<polygon points="937.3,375.1 947.3,381.1 940.7,392.9 930.7,386.9" fill="#222" stroke="none" stroke-width="0" stroke-linejoin="miter"/>
<line x1="937.3" y1="375.1" x2="947.3" y2="381.1" stroke="#000" stroke-width="1.3" stroke-linecap="butt"/>
<line x1="930.7" y1="386.9" x2="940.7" y2="392.9" stroke="#000" stroke-width="1.3" stroke-linecap="butt"/>
<ellipse cx="944" cy="387" rx="4.5" ry="6.8" fill="#222" stroke="#000" stroke-width="1.3" transform="rotate(28 944 387)" />
<ellipse cx="944" cy="387" rx="3" ry="5" fill="#fff" stroke="#000" stroke-width="0.8" transform="rotate(28 944 387)" />
<ellipse cx="958.5" cy="395.2" rx="12.5" ry="14" fill="#fff" stroke="#000" stroke-width="1.4" transform="rotate(26 958.5 395.2)" />
<polygon points="965.5,383.1 971,386.4 957,410.6 951.5,407.3" fill="#fff" stroke="none" stroke-width="0" stroke-linejoin="miter"/>
<line x1="965.5" y1="383.1" x2="971" y2="386.4" stroke="#000" stroke-width="1.4" stroke-linecap="butt"/>
<line x1="951.5" y1="407.3" x2="957" y2="410.6" stroke="#000" stroke-width="1.4" stroke-linecap="butt"/>
<ellipse cx="964" cy="398.5" rx="12.5" ry="14" fill="#fff" stroke="#000" stroke-width="1.4" transform="rotate(26 964 398.5)" />
<polygon points="970.4,409.2 958,410.7 951.7,400.1 957.6,387.8 970,386.3 976.3,396.9" fill="#fff" stroke="#000" stroke-width="1.4" stroke-linejoin="miter"/>
<ellipse cx="965" cy="399" rx="8.6" ry="10.3" fill="url(#thread)" stroke="#000" stroke-width="1" transform="rotate(26 965 399)" />
<path d="M953.5,394 L951.5,401 M956,405 L953,410" fill="none" stroke="#000" stroke-width="0.9" />
<path d="M1053,381 C1046,368 1047,345 1062,334 C1075,326 1095,328 1103,342 C1107,350 1106,356 1104,360 L1060,385 Z" fill="#fff" stroke="#000" stroke-width="1.6" />
<path d="M1064,378 C1060,362 1066,345 1080,338 C1092,333 1101,338 1104,346" fill="none" stroke="#000" stroke-width="1.1" />
<path d="M1066,379 C1062,364 1068,347 1081,340" fill="none" stroke="#000" stroke-width="0.8" />
<path d="M1076,369 C1076,360 1086,355 1093,357 L1100,362 L1080,372 Z" fill="#fff" stroke="#000" stroke-width="1.6" />
<path d="M1080,367 C1081,362 1087,359 1092,360" fill="none" stroke="#222" stroke-width="2.5" />
<path d="M1113,396 L1113,406.5 Q1121,411 1129.3,406.5 L1129.3,392 Z" fill="url(#threadv)" stroke="#000" stroke-width="1.3" />
<path d="M995.7,418.3 L1105.8,355.4 C1118,350.5 1130,354 1137,362.5 C1143,370 1145,382 1141.5,390 L1137.2,393.8 L1028.9,455 L1010.6,449.7 L996.6,440.1 Z" fill="#fff" stroke="#000" stroke-width="1.8" />
<line x1="995.7" y1="418.3" x2="1020.2" y2="424.4" stroke="#000" stroke-width="1.6" stroke-linecap="butt"/>
<line x1="1020.2" y1="424.4" x2="1126.7" y2="362.4" stroke="#000" stroke-width="1.3" stroke-linecap="butt"/>
<ellipse cx="1017.6" cy="440.3" rx="10.6" ry="13.8" fill="#fff" stroke="#000" stroke-width="2.4" transform="rotate(-20 1017.6 440.3)" />
<ellipse cx="1017.4" cy="440.5" rx="7.8" ry="10.8" fill="#fff" stroke="#000" stroke-width="1.4" transform="rotate(-20 1017.4 440.5)" />
<path d="M1012.5,431.5 C1009.5,437 1011,446 1017.5,450.5" fill="none" stroke="#111" stroke-width="2.6" />
<path d="M1016,434 L1019,446 M1020.5,433 L1023,444" fill="none" stroke="#000" stroke-width="1.2" />
<line x1="1119.7" y1="409" x2="1119.7" y2="425" stroke="#000" stroke-width="1" stroke-dasharray="4 2" stroke-linecap="butt"/>
<path d="M1113,429 L1113,440 Q1119.8,444.5 1126.7,440 L1126.7,429 Z" fill="#fff" stroke="#000" stroke-width="1.3" />
<ellipse cx="1119.8" cy="429" rx="6.9" ry="3.6" fill="#222" stroke="#000" stroke-width="1.3" />
<line x1="1115" y1="433" x2="1124" y2="433" stroke="#000" stroke-width="0.8" stroke-linecap="butt"/>
<line x1="1119.8" y1="442.5" x2="1119.8" y2="450" stroke="#000" stroke-width="1" stroke-dasharray="3 2" stroke-linecap="butt"/>
<line x1="1129.3" y1="433.7" x2="1146" y2="433.7" stroke="#000" stroke-width="1.3" stroke-linecap="butt"/>
<text x="1148.5" y="444.5" font-size="27" text-anchor="start" fill="#000" >8</text>
<path d="M1109.5,456 L1109.5,466 Q1119.4,471 1129.3,466 L1129.3,456 Z" fill="#fff" stroke="#000" stroke-width="1.4" />
<ellipse cx="1119.4" cy="456" rx="9.9" ry="4.6" fill="#fff" stroke="#000" stroke-width="1.4" />
<ellipse cx="1119.4" cy="456.5" rx="6.5" ry="2.8" fill="#fff" stroke="#000" stroke-width="1" />
<path d="M1113,469 L1113,492 M1127,469 L1127,492" fill="none" stroke="#000" stroke-width="1.6" />
<path d="M1113,479 Q1120,482 1127,479" fill="none" stroke="#000" stroke-width="1.2" />
<ellipse cx="1156" cy="359.5" rx="5.8" ry="8.2" fill="#fff" stroke="#000" stroke-width="2" transform="rotate(-18 1156 359.5)" />
<line x1="1164.4" y1="367.9" x2="1171.3" y2="371.7" stroke="#000" stroke-width="1.3" stroke-linecap="butt"/>
<text x="1179.00" y="386.8" font-size="18" fill="#000"  letter-spacing="0.9">2. </text>
<path class="t1" d="M1200.34,386.80 L1201.93,386.80 L1201.93,374.42 L1200.73,374.42 C1200.56,375.37 1199.50,376.12 1197.13,376.25 L1197.13,377.35 L1200.34,377.35 Z" fill="#000"/>
<polyline points="1194.2,353.4 1247.7,384 1220.2,399.2 1208.7,393.1" fill="none" stroke="#000" stroke-width="1.3" stroke-linejoin="miter"/>
<line x1="1235.5" y1="391.6" x2="1245.4" y2="397.8" stroke="#000" stroke-width="1.3" stroke-linecap="butt"/>
<text x="1250" y="418.5" font-size="27" text-anchor="start" fill="#000" >2</text>
<path d="M1151.5,351 C1152,340 1162,334 1174,336.6" fill="none" stroke="#000" stroke-width="1.1" />
<path d="M1170,333 L1177,337 L1170,340 Z" fill="#000" stroke="#000" stroke-width="0.5" />
<ellipse cx="1205" cy="330.5" rx="3.6" ry="5.2" fill="#222" stroke="#000" stroke-width="1.2" transform="rotate(-22 1205 330.5)" />
<polygon points="1207.3,335.2 1200.8,339 1196.2,329.6 1202.7,325.8" fill="url(#thread)" stroke="none" stroke-width="0" stroke-linejoin="miter"/>
<line x1="1207.3" y1="335.2" x2="1200.8" y2="339" stroke="#000" stroke-width="1.2" stroke-linecap="butt"/>
<line x1="1202.7" y1="325.8" x2="1196.2" y2="329.6" stroke="#000" stroke-width="1.2" stroke-linecap="butt"/>
<ellipse cx="1198.5" cy="334.3" rx="3.6" ry="5.2" fill="#222" stroke="#000" stroke-width="1.2" transform="rotate(-22 1198.5 334.3)" />
<ellipse cx="1199" cy="334" rx="8" ry="11.2" fill="#222" stroke="#000" stroke-width="1.5" transform="rotate(-22 1199 334)" />
<polygon points="1203.9,344 1184.9,355 1175.1,335 1194.1,324" fill="url(#thread)" stroke="none" stroke-width="0" stroke-linejoin="miter"/>
<line x1="1203.9" y1="344" x2="1184.9" y2="355" stroke="#000" stroke-width="1.5" stroke-linecap="butt"/>
<line x1="1194.1" y1="324" x2="1175.1" y2="335" stroke="#000" stroke-width="1.5" stroke-linecap="butt"/>
<ellipse cx="1180" cy="345" rx="8" ry="11.2" fill="#222" stroke="#000" stroke-width="1.5" transform="rotate(-22 1180 345)" />
<path d="M1184.5,334 L1188.5,350 M1189.5,331.5 L1193.5,347.5 M1194,329 L1197.5,344.5" fill="none" stroke="#eee" stroke-width="1.1" />
<ellipse cx="1181" cy="344.5" rx="6.3" ry="8.8" fill="#fff" stroke="#000" stroke-width="1.5" transform="rotate(-22 1181 344.5)" />
<polygon points="1184.9,352.4 1173.9,358.9 1166.1,343.1 1177.1,336.6" fill="#fff" stroke="none" stroke-width="0" stroke-linejoin="miter"/>
<line x1="1184.9" y1="352.4" x2="1173.9" y2="358.9" stroke="#000" stroke-width="1.5" stroke-linecap="butt"/>
<line x1="1177.1" y1="336.6" x2="1166.1" y2="343.1" stroke="#000" stroke-width="1.5" stroke-linecap="butt"/>
<ellipse cx="1170" cy="351" rx="6.3" ry="8.8" fill="#fff" stroke="#000" stroke-width="1.5" transform="rotate(-22 1170 351)" />
<ellipse cx="1170" cy="351" rx="6.3" ry="8.8" fill="#fff" stroke="#000" stroke-width="2.3" transform="rotate(-22 1170 351)" />
<ellipse cx="1170.3" cy="350.8" rx="3.8" ry="5.8" fill="#fff" stroke="#000" stroke-width="1.3" transform="rotate(-22 1170.3 350.8)" />
<path d="M1167.5,346 C1166.5,349 1167,353 1169,355.5" fill="none" stroke="#222" stroke-width="1.6" />
<ellipse cx="1244" cy="308.5" rx="6.4" ry="9.4" fill="#fff" stroke="#000" stroke-width="1.4" transform="rotate(-20 1244 308.5)" />
<polygon points="1247.8,317 1238.8,322 1231.2,305 1240.2,300" fill="#fff" stroke="none" stroke-width="0" stroke-linejoin="miter"/>
<line x1="1247.8" y1="317" x2="1238.8" y2="322" stroke="#000" stroke-width="1.4" stroke-linecap="butt"/>
<line x1="1240.2" y1="300" x2="1231.2" y2="305" stroke="#000" stroke-width="1.4" stroke-linecap="butt"/>
<ellipse cx="1235" cy="313.5" rx="6.4" ry="9.4" fill="#fff" stroke="#000" stroke-width="1.4" transform="rotate(-20 1235 313.5)" />
<path d="M1239,318 L1242,319.5 L1241,322" fill="none" stroke="#000" stroke-width="1.2" />
<ellipse cx="1231" cy="314" rx="7.8" ry="13.2" fill="#fff" stroke="#000" stroke-width="1.6" transform="rotate(-20 1231 314)" />
<polygon points="1235.9,326.3 1226.2,330.8 1216.4,306.2 1226.1,301.7" fill="#fff" stroke="none" stroke-width="0" stroke-linejoin="miter"/>
<line x1="1235.9" y1="326.3" x2="1226.2" y2="330.8" stroke="#000" stroke-width="1.6" stroke-linecap="butt"/>
<line x1="1226.1" y1="301.7" x2="1216.4" y2="306.2" stroke="#000" stroke-width="1.6" stroke-linecap="butt"/>
<ellipse cx="1221.3" cy="318.5" rx="7.8" ry="13.2" fill="#fff" stroke="#000" stroke-width="1.6" transform="rotate(-20 1221.3 318.5)" />
<ellipse cx="1221.3" cy="318.5" rx="7.8" ry="13.2" fill="#fff" stroke="#000" stroke-width="2" transform="rotate(-20 1221.3 318.5)" />
<ellipse cx="1222.3" cy="318.2" rx="5.6" ry="10.6" fill="url(#dots2)" stroke="#000" stroke-width="1" transform="rotate(-20 1222.3 318.2)" />
<path d="M1220,328 L1224,331.5 M1216,309 L1218,306" fill="none" stroke="#fff" stroke-width="2" />
<ellipse cx="1276" cy="289.5" rx="7.6" ry="10.2" fill="#222" stroke="#000" stroke-width="1.4" transform="rotate(-20 1276 289.5)" />
<polygon points="1280.4,298.6 1271.9,303.6 1263.1,285.4 1271.6,280.4" fill="url(#thread)" stroke="none" stroke-width="0" stroke-linejoin="miter"/>
<line x1="1280.4" y1="298.6" x2="1271.9" y2="303.6" stroke="#000" stroke-width="1.4" stroke-linecap="butt"/>
<line x1="1271.6" y1="280.4" x2="1263.1" y2="285.4" stroke="#000" stroke-width="1.4" stroke-linecap="butt"/>
<ellipse cx="1267.5" cy="294.5" rx="7.6" ry="10.2" fill="#222" stroke="#000" stroke-width="1.4" transform="rotate(-20 1267.5 294.5)" />
<ellipse cx="1267.5" cy="294.5" rx="6.2" ry="8.6" fill="#fff" stroke="#000" stroke-width="1.2" transform="rotate(-20 1267.5 294.5)" />
<ellipse cx="1266" cy="295.5" rx="4.3" ry="6" fill="#fff" stroke="#000" stroke-width="1.3" transform="rotate(-20 1266 295.5)" />
<polygon points="1268.6,300.9 1260.1,305.9 1254.9,295.1 1263.4,290.1" fill="#fff" stroke="none" stroke-width="0" stroke-linejoin="miter"/>
<line x1="1268.6" y1="300.9" x2="1260.1" y2="305.9" stroke="#000" stroke-width="1.3" stroke-linecap="butt"/>
<line x1="1263.4" y1="290.1" x2="1254.9" y2="295.1" stroke="#000" stroke-width="1.3" stroke-linecap="butt"/>
<ellipse cx="1257.5" cy="300.5" rx="4.3" ry="6" fill="#fff" stroke="#000" stroke-width="1.3" transform="rotate(-20 1257.5 300.5)" />
<path d="M1259,296 L1261,303 M1261.5,294.5 L1263.5,301.5 M1264,293 L1266,300" fill="none" stroke="#000" stroke-width="0.9" />
<ellipse cx="1257.5" cy="300.5" rx="2.6" ry="3.8" fill="#fff" stroke="#000" stroke-width="1" transform="rotate(-20 1257.5 300.5)" />
<ellipse cx="1335.5" cy="255.5" rx="13.8" ry="17.2" fill="#fff" stroke="#000" stroke-width="1.8" transform="rotate(-15 1335.5 255.5)" />
<polygon points="1342.6,271 1339.8,272.6 1325.6,241.6 1328.4,240" fill="#fff" stroke="none" stroke-width="0" stroke-linejoin="miter"/>
<line x1="1342.6" y1="271" x2="1339.8" y2="272.6" stroke="#000" stroke-width="1.8" stroke-linecap="butt"/>
<line x1="1328.4" y1="240" x2="1325.6" y2="241.6" stroke="#000" stroke-width="1.8" stroke-linecap="butt"/>
<ellipse cx="1332.7" cy="257.1" rx="13.8" ry="17.2" fill="#fff" stroke="#000" stroke-width="1.8" transform="rotate(-15 1332.7 257.1)" />
<ellipse cx="1332.7" cy="257.1" rx="13.8" ry="17.2" fill="url(#tri)" stroke="#000" stroke-width="1.8" transform="rotate(-15 1332.7 257.1)" />
<polygon points="1339.8,272.6 1305.1,292.5 1290.9,261.5 1325.6,241.6" fill="url(#tri)" stroke="none" stroke-width="0" stroke-linejoin="miter"/>
<line x1="1339.8" y1="272.6" x2="1305.1" y2="292.5" stroke="#000" stroke-width="1.8" stroke-linecap="butt"/>
<line x1="1325.6" y1="241.6" x2="1290.9" y2="261.5" stroke="#000" stroke-width="1.8" stroke-linecap="butt"/>
<ellipse cx="1298" cy="277" rx="13.8" ry="17.2" fill="#fff" stroke="#000" stroke-width="1.8" transform="rotate(-15 1298 277)" />
<ellipse cx="1298" cy="277" rx="13.8" ry="17.2" fill="#fff" stroke="#000" stroke-width="2.6" transform="rotate(-15 1298 277)" />
<ellipse cx="1297" cy="277.6" rx="10.6" ry="13.6" fill="#fff" stroke="#000" stroke-width="1.2" transform="rotate(-15 1297 277.6)" />
<path d="M1301,265 C1306,270 1308,280 1305,289" fill="none" stroke="#111" stroke-width="3.2" />
<path d="M1294,268 C1292,274 1293,281 1296,285" fill="none" stroke="#000" stroke-width="1.1" />
<ellipse cx="1328" cy="271.5" rx="6.8" ry="4.2" fill="#fff" stroke="#000" stroke-width="1.8" transform="rotate(-30 1328 271.5)" />
<g transform="translate(1349.5,247) rotate(-28)">
<rect x="0" y="-2.6" width="21" height="5.2" fill="#fff" stroke="#000" stroke-width="1.6" rx="2.4" />
<ellipse cx="1.8" cy="0" rx="2" ry="2.6" fill="#111" stroke="#000" stroke-width="1" />
<ellipse cx="19.5" cy="0" rx="2.4" ry="3.4" fill="#111" stroke="#000" stroke-width="1" />
<ellipse cx="2" cy="0" rx="0.7" ry="0.9" fill="#fff" stroke="none" stroke-width="0" />
</g>
<line x1="1369" y1="237" x2="1377.5" y2="232" stroke="#000" stroke-width="1.2" stroke-linecap="butt"/>
<ellipse cx="1387.8" cy="226.6" rx="11.2" ry="14.6" fill="#fff" stroke="#000" stroke-width="2.2" transform="rotate(-24 1387.8 226.6)" />
<path d="M1380.5,216.5 Q1384,213 1388,215 L1387,219 Q1383,220 1381,218 Z M1393.5,232 L1397.5,230 L1398,235 L1394,236.5 Z" fill="#111" stroke="#000" stroke-width="1.2" />
<path d="M1380.5,237 L1381,241.5 L1385,240.5 L1384.5,238.5" fill="#222" stroke="#000" stroke-width="1.8" />
<polyline points="1398.9,241.6 1446,269.5 1290,360 1240.8,330.5" fill="none" stroke="#000" stroke-width="1.3" stroke-linejoin="miter"/>
<line x1="1361.3" y1="248" x2="1421.6" y2="283.5" stroke="#000" stroke-width="1.3" stroke-linecap="butt"/>
<line x1="1324.6" y1="286.5" x2="1370" y2="313.3" stroke="#000" stroke-width="1.3" stroke-linecap="butt"/>
<line x1="1274" y1="305.7" x2="1328.1" y2="337.2" stroke="#000" stroke-width="1.3" stroke-linecap="butt"/>
<line x1="1388.4" y1="303.2" x2="1398.9" y2="310.9" stroke="#000" stroke-width="1.3" stroke-linecap="butt"/>
<text x="1399.00" y="331" font-size="27" fill="#000" > </text>
<path class="t1" d="M1405.79,331.00 L1408.18,331.00 L1408.18,312.42 L1406.38,312.42 C1406.12,313.86 1404.54,314.98 1400.98,315.18 L1400.98,316.83 L1405.79,316.83 Z" fill="#000"/>
<ellipse cx="991" cy="455" rx="11.5" ry="14.8" fill="#fff" stroke="#000" stroke-width="1.5" transform="rotate(-18 991 455)" />
<polygon points="997.5,468.2 979.7,479 966.7,452.6 984.5,441.8" fill="#fff" stroke="none" stroke-width="0" stroke-linejoin="miter"/>
<line x1="997.5" y1="468.2" x2="979.7" y2="479" stroke="#000" stroke-width="1.5" stroke-linecap="butt"/>
<line x1="984.5" y1="441.8" x2="966.7" y2="452.6" stroke="#000" stroke-width="1.5" stroke-linecap="butt"/>
<ellipse cx="973.2" cy="465.8" rx="11.5" ry="14.8" fill="#fff" stroke="#000" stroke-width="1.5" transform="rotate(-18 973.2 465.8)" />
<ellipse cx="973.2" cy="465.8" rx="11" ry="14.3" fill="url(#thread)" stroke="#000" stroke-width="1.8" transform="rotate(-18 973.2 465.8)" />
<ellipse cx="973.8" cy="466" rx="7.2" ry="10.4" fill="#fff" stroke="#000" stroke-width="1.4" transform="rotate(-18 973.8 466)" />
<path d="M970,458 C968,464 970,472 975,475" fill="none" stroke="#000" stroke-width="1.5" />
<line x1="996.1" y1="475" x2="1040.4" y2="500.2" stroke="#000" stroke-width="1.3" stroke-linecap="butt"/>
<text x="1043.5" y="515.5" font-size="27" text-anchor="start" fill="#000" >5</text>
<ellipse cx="955.5" cy="477.5" rx="8.8" ry="12.8" fill="#222" stroke="#000" stroke-width="1.5" transform="rotate(-22 955.5 477.5)" />
<polygon points="961,489 943.5,499 932.5,476 950,466" fill="url(#dots2)" stroke="none" stroke-width="0" stroke-linejoin="miter"/>
<line x1="961" y1="489" x2="943.5" y2="499" stroke="#000" stroke-width="1.5" stroke-linecap="butt"/>
<line x1="950" y1="466" x2="932.5" y2="476" stroke="#000" stroke-width="1.5" stroke-linecap="butt"/>
<ellipse cx="938" cy="487.5" rx="8.8" ry="12.8" fill="url(#dots2)" stroke="#000" stroke-width="1.5" transform="rotate(-22 938 487.5)" />
<ellipse cx="940" cy="486.5" rx="10" ry="13.5" fill="#fff" stroke="#000" stroke-width="1.5" transform="rotate(-22 940 486.5)" />
<polygon points="946,498.6 927,509.6 915,485.4 934,474.4" fill="#fff" stroke="none" stroke-width="0" stroke-linejoin="miter"/>
<line x1="946" y1="498.6" x2="927" y2="509.6" stroke="#000" stroke-width="1.5" stroke-linecap="butt"/>
<line x1="934" y1="474.4" x2="915" y2="485.4" stroke="#000" stroke-width="1.5" stroke-linecap="butt"/>
<ellipse cx="921" cy="497.5" rx="10" ry="13.5" fill="#fff" stroke="#000" stroke-width="1.5" transform="rotate(-22 921 497.5)" />
<path d="M926,487 L930,503 M935,482 L939,499" fill="none" stroke="#111" stroke-width="3.2" />
<path d="M930.5,485 L934,501" fill="none" stroke="#111" stroke-width="1.2" />
<ellipse cx="922" cy="497" rx="7.2" ry="9.6" fill="#fff" stroke="#000" stroke-width="1.4" transform="rotate(-22 922 497)" />
<polygon points="926.2,505.6 915.2,511.6 906.8,494.4 917.8,488.4" fill="#fff" stroke="none" stroke-width="0" stroke-linejoin="miter"/>
<line x1="926.2" y1="505.6" x2="915.2" y2="511.6" stroke="#000" stroke-width="1.4" stroke-linecap="butt"/>
<line x1="917.8" y1="488.4" x2="906.8" y2="494.4" stroke="#000" stroke-width="1.4" stroke-linecap="butt"/>
<ellipse cx="911" cy="503" rx="7.2" ry="9.6" fill="#fff" stroke="#000" stroke-width="1.4" transform="rotate(-22 911 503)" />
<ellipse cx="911" cy="503" rx="6.8" ry="9.2" fill="#fff" stroke="#000" stroke-width="1.4" transform="rotate(-22 911 503)" />
<polygon points="914.9,511.3 906.4,515.8 898.6,499.2 907.1,494.7" fill="#111" stroke="none" stroke-width="0" stroke-linejoin="miter"/>
<line x1="914.9" y1="511.3" x2="906.4" y2="515.8" stroke="#000" stroke-width="1.4" stroke-linecap="butt"/>
<line x1="907.1" y1="494.7" x2="898.6" y2="499.2" stroke="#000" stroke-width="1.4" stroke-linecap="butt"/>
<ellipse cx="902.5" cy="507.5" rx="6.8" ry="9.2" fill="#111" stroke="#000" stroke-width="1.4" transform="rotate(-22 902.5 507.5)" />
<ellipse cx="902.5" cy="507.5" rx="5" ry="7" fill="#fff" stroke="#000" stroke-width="1.2" transform="rotate(-22 902.5 507.5)" />
<path d="M901,504 C900,507 901,510 903.5,511" fill="none" stroke="#000" stroke-width="1.1" />
<line x1="949.5" y1="498.7" x2="1010.6" y2="533.8" stroke="#000" stroke-width="1.3" stroke-linecap="butt"/>
<text x="1009.8" y="549.9" font-size="27" text-anchor="start" fill="#000" >4</text>
<ellipse cx="883" cy="515.5" rx="9.2" ry="14" fill="#fff" stroke="#000" stroke-width="2" transform="rotate(-20 883 515.5)" />
<polygon points="888.8,528.2 879.1,534 867.5,508.6 877.2,502.8" fill="#111" stroke="none" stroke-width="0" stroke-linejoin="miter"/>
<line x1="888.8" y1="528.2" x2="879.1" y2="534" stroke="#000" stroke-width="2" stroke-linecap="butt"/>
<line x1="877.2" y1="502.8" x2="867.5" y2="508.6" stroke="#000" stroke-width="2" stroke-linecap="butt"/>
<ellipse cx="873.3" cy="521.3" rx="9.2" ry="14" fill="#111" stroke="#000" stroke-width="2" transform="rotate(-20 873.3 521.3)" />
<ellipse cx="873.3" cy="521.3" rx="8.6" ry="13.6" fill="#fff" stroke="#000" stroke-width="2.2" transform="rotate(-20 873.3 521.3)" />
<ellipse cx="874.5" cy="520.6" rx="6.2" ry="10.6" fill="none" stroke="#000" stroke-width="1" transform="rotate(-20 874.5 520.6)" />
<path d="M881,510 L884,512 M886,523 L889,525" fill="none" stroke="#fff" stroke-width="1.6" />
<line x1="888.7" y1="534.3" x2="948.2" y2="568.2" stroke="#000" stroke-width="1.3" stroke-linecap="butt"/>
<text x="949.5" y="589" font-size="27" text-anchor="start" fill="#000" >3</text>
<text x="813" y="503" font-size="13.5" text-anchor="start" fill="#000" >34mm</text>
<line x1="853.7" y1="503" x2="866" y2="509.5" stroke="#000" stroke-width="1.2" stroke-linecap="butt"/>
<ellipse cx="850" cy="539" rx="13.4" ry="16.8" fill="#fff" stroke="#000" stroke-width="1.8" transform="rotate(-15 850 539)" />
<polygon points="856.8,554.3 854,555.8 840.4,525.3 843.2,523.7" fill="#fff" stroke="none" stroke-width="0" stroke-linejoin="miter"/>
<line x1="856.8" y1="554.3" x2="854" y2="555.8" stroke="#000" stroke-width="1.8" stroke-linecap="butt"/>
<line x1="843.2" y1="523.7" x2="840.4" y2="525.3" stroke="#000" stroke-width="1.8" stroke-linecap="butt"/>
<ellipse cx="847.2" cy="540.5" rx="13.4" ry="16.8" fill="#fff" stroke="#000" stroke-width="1.8" transform="rotate(-15 847.2 540.5)" />
<ellipse cx="847.2" cy="540.5" rx="13.4" ry="16.8" fill="url(#tri)" stroke="#000" stroke-width="1.8" transform="rotate(-15 847.2 540.5)" />
<polygon points="854,555.8 818.7,575.3 805.1,544.7 840.4,525.3" fill="url(#tri)" stroke="none" stroke-width="0" stroke-linejoin="miter"/>
<line x1="854" y1="555.8" x2="818.7" y2="575.3" stroke="#000" stroke-width="1.8" stroke-linecap="butt"/>
<line x1="840.4" y1="525.3" x2="805.1" y2="544.7" stroke="#000" stroke-width="1.8" stroke-linecap="butt"/>
<ellipse cx="811.9" cy="560" rx="13.4" ry="16.8" fill="#fff" stroke="#000" stroke-width="1.8" transform="rotate(-15 811.9 560)" />
<ellipse cx="811.9" cy="560" rx="13.4" ry="16.8" fill="#fff" stroke="#000" stroke-width="2.6" transform="rotate(-15 811.9 560)" />
<ellipse cx="810.8" cy="560.6" rx="10.2" ry="13.2" fill="#fff" stroke="#000" stroke-width="1.2" transform="rotate(-15 810.8 560.6)" />
<ellipse cx="812.5" cy="560" rx="10.5" ry="13.4" fill="#fff" stroke="#000" stroke-width="2.2" transform="rotate(-18 812.5 560)" />
<ellipse cx="813" cy="559.8" rx="8.3" ry="10.8" fill="#fff" stroke="#000" stroke-width="1.0" transform="rotate(-18 813 559.8)" />
<ellipse cx="813.3" cy="559.5" rx="6.3" ry="8.2" fill="#fff" stroke="#111" stroke-width="2.6" transform="rotate(-15 813.3 559.5)" />
<ellipse cx="814" cy="559.3" rx="2.8" ry="3.6" fill="#fff" stroke="#000" stroke-width="1.4" transform="rotate(-15 814 559.3)" />
<path d="M804,552 C802,557 803,564 807,569" fill="none" stroke="#111" stroke-width="2" />
<path d="M806,548 C803,556 805,566 811,572" fill="none" stroke="#000" stroke-width="1.2" />
<ellipse cx="842" cy="553.5" rx="7" ry="4.5" fill="#fff" stroke="#000" stroke-width="1.6" transform="rotate(-28 842 553.5)" />
<g transform="translate(792,570) rotate(150)">
<path d="M0,0 L4,-2.3 L9,-2.3 L9,2.3 L4,2.3 Z" fill="#222" stroke="#000" stroke-width="1.1" />
</g>
<ellipse cx="758.6" cy="589.4" rx="11.3" ry="15.4" fill="#fff" stroke="#000" stroke-width="2" transform="rotate(-27 758.6 589.4)" />
<path d="M762,576.5 C767,578 770.5,585 770.8,593 C771,598 768.5,602 766,603.5" fill="none" stroke="#000" stroke-width="2.8" />
<path d="M761.5,575 L764,573 L766.5,575 L764.5,577.5 Z M770.5,591 L773,592 L772.8,596.5 L770,596 Z" fill="#111" stroke="#000" stroke-width="1.2" />
<polyline points="848,562.7 876.6,580 807,620.5 771,600.4" fill="none" stroke="#000" stroke-width="1.3" stroke-linejoin="miter"/>
<line x1="790.6" y1="576.6" x2="836.5" y2="603.3" stroke="#000" stroke-width="1.3" stroke-linecap="butt"/>
<line x1="855.3" y1="592.5" x2="866" y2="601.2" stroke="#000" stroke-width="1.3" stroke-linecap="butt"/>
<text x="866.80" y="621.7" font-size="27" fill="#000" > </text>
<path class="t1" d="M873.59,621.70 L875.98,621.70 L875.98,603.12 L874.18,603.12 C873.92,604.56 872.34,605.68 868.78,605.88 L868.78,607.53 L873.59,607.53 Z" fill="#000"/>
</g>
<g id="cells">
<ellipse cx="285" cy="821.5" rx="11" ry="13.4" fill="#fff" stroke="#8f8f8f" stroke-width="1.3" transform="rotate(28 285 821.5)" />
<polygon points="291.4,809.7 300.4,814.7 287.6,838.3 278.6,833.3" fill="#fff" stroke="none" stroke-width="0" stroke-linejoin="miter"/>
<line x1="291.4" y1="809.7" x2="300.4" y2="814.7" stroke="#8f8f8f" stroke-width="1.3" stroke-linecap="butt"/>
<line x1="278.6" y1="833.3" x2="287.6" y2="838.3" stroke="#8f8f8f" stroke-width="1.3" stroke-linecap="butt"/>
<ellipse cx="294" cy="826.5" rx="11" ry="13.4" fill="#fff" stroke="#8f8f8f" stroke-width="1.3" transform="rotate(28 294 826.5)" />
<ellipse cx="294" cy="826.5" rx="11.3" ry="13.7" fill="url(#greythread)" stroke="#8f8f8f" stroke-width="1.3" transform="rotate(28 294 826.5)" />
<polygon points="300.6,814.5 313.9,822 300.7,846 287.4,838.5" fill="url(#greythread2)" stroke="none" stroke-width="0" stroke-linejoin="miter"/>
<line x1="300.6" y1="814.5" x2="313.9" y2="822" stroke="#8f8f8f" stroke-width="1.3" stroke-linecap="butt"/>
<line x1="287.4" y1="838.5" x2="300.7" y2="846" stroke="#8f8f8f" stroke-width="1.3" stroke-linecap="butt"/>
<ellipse cx="307.3" cy="834" rx="11.3" ry="13.7" fill="#fff" stroke="#8f8f8f" stroke-width="1.3" transform="rotate(28 307.3 834)" />
<ellipse cx="307.8" cy="834.3" rx="7.6" ry="9.6" fill="#fff" stroke="#8f8f8f" stroke-width="1.2" transform="rotate(28 307.8 834.3)" />
<ellipse cx="308" cy="834.5" rx="4.8" ry="6.4" fill="#fff" stroke="#8f8f8f" stroke-width="1.1" transform="rotate(28 308 834.5)" />
<path d="M305.5,830.5 L310.5,831.5 L310.8,838 L305.8,837 Z" fill="none" stroke="#8f8f8f" stroke-width="0.9" />
<clipPath id="hc1"><rect x="354.5" y="793" width="24" height="17.5"/><rect x="354.5" y="839.3" width="24" height="17.5"/></clipPath>
<g clip-path="url(#hc1)"><path d="M300.0,857 L370.0,787 M308.7,857 L378.7,787 M317.4,857 L387.4,787 M326.1,857 L396.1,787 M334.8,857 L404.8,787 M343.5,857 L413.5,787 M352.2,857 L422.2,787 M360.9,857 L430.9,787 M369.6,857 L439.6,787 M378.3,857 L448.3,787 M387.0,857 L457.0,787 M395.7,857 L465.7,787" stroke="#000" stroke-width="1.6"/></g>
<line x1="378.5" y1="793" x2="378.5" y2="857" stroke="#000" stroke-width="1.6" stroke-linecap="butt"/>
<line x1="355.5" y1="810.8" x2="388.6" y2="810.8" stroke="#000" stroke-width="1.4" stroke-linecap="butt"/>
<line x1="355.5" y1="839.2" x2="388.6" y2="839.2" stroke="#000" stroke-width="1.4" stroke-linecap="butt"/>
<rect x="348.4" y="813.2" width="19" height="23.6" fill="#fff" stroke="#111" stroke-width="2.6" rx="2" />
<rect x="367.6" y="815.3" width="10.8" height="19.5" fill="#fff" stroke="#000" stroke-width="1.2" />
<line x1="369.5" y1="815.5" x2="369.5" y2="834.5" stroke="#777" stroke-width="1.2" stroke-linecap="butt"/>
<rect x="378.5" y="811.5" width="10" height="26" fill="#fff" stroke="#000" stroke-width="1.4" />
<rect x="389" y="810" width="20.8" height="30.2" fill="#fff" stroke="#111" stroke-width="2.6" rx="2" />
<line x1="410.5" y1="824.8" x2="420.8" y2="824.8" stroke="#222" stroke-width="1.4" stroke-dasharray="6 1.5" stroke-linecap="butt"/>
<rect x="421" y="808" width="21" height="33.5" fill="#fff" stroke="#999" stroke-width="1.6" />
<rect x="443" y="810" width="9.3" height="29.5" fill="#fff" stroke="#999" stroke-width="1.6" />
<line x1="444.6" y1="811" x2="444.6" y2="838" stroke="#bbb" stroke-width="1" stroke-linecap="butt"/>
<line x1="421" y1="787" x2="421" y2="808" stroke="#000" stroke-width="1.2" stroke-linecap="butt"/>
<line x1="443.7" y1="787" x2="443.7" y2="810" stroke="#000" stroke-width="1.2" stroke-linecap="butt"/>
<line x1="400.6" y1="792.5" x2="421" y2="792.5" stroke="#000" stroke-width="1.2" stroke-linecap="butt"/>
<line x1="443.7" y1="792.5" x2="463.9" y2="792.5" stroke="#000" stroke-width="1.2" stroke-linecap="butt"/>
<polygon points="411,790.6 421,792.5 411,794.4" fill="#000" stroke="#000" stroke-width="0.5" stroke-linejoin="miter"/>
<polygon points="453.6,790.6 443.7,792.5 453.6,794.4" fill="#000" stroke="#000" stroke-width="0.5" stroke-linejoin="miter"/>
<path d="M528.5,814.6 C532,812.8 534,813 536,814.5 C539,812 545,812.5 547.5,818 C549.5,824 545,829 540,829 C536.5,829 534,827 533,825 L527,824.5 L490,834 C486,836 485,838.5 483.2,840.5 C481,842 476.5,841.5 476,839.6 L482.6,835.6 C483.5,834 483,831.5 482,830.3 L475.3,831.4 C475,829.5 477,826 481.5,822.5 C484,821 487,821 490.5,824 Z" fill="#fff" stroke="#8f8f8f" stroke-width="1.4" />
<ellipse cx="540.3" cy="821.2" rx="4.9" ry="4.9" fill="#fff" stroke="#8f8f8f" stroke-width="1.3" />
<line x1="533" y1="815" x2="533" y2="825" stroke="#8f8f8f" stroke-width="1.1" stroke-linecap="butt"/>
<path d="M572.5,811 L572.5,830 Q577,836.5 590.8,836.8 Q604.5,836.5 609.2,830 L609.2,811" fill="#fff" stroke="#000" stroke-width="2.1" />
<ellipse cx="590.8" cy="808.2" rx="18.2" ry="7.8" fill="#fff" stroke="#000" stroke-width="2.1" />
<ellipse cx="590.8" cy="809.2" rx="15.6" ry="6.2" fill="#fff" stroke="#000" stroke-width="1.1" />
<ellipse cx="590.8" cy="810.6" rx="11.8" ry="5" fill="#1a1a1a" stroke="#000" stroke-width="1.2" />
<path d="M581,809 Q590.8,806 600.6,809 M580,811.5 Q590.8,808.5 601.6,811.5 M581.5,814 Q590.8,811.5 600,814" fill="none" stroke="#888" stroke-width="0.8" />
<path d="M579.7,819 L579.7,834 M602,819 L602,834 M584.5,822 L584.5,836 M597,822 L597,836" fill="none" stroke="#000" stroke-width="1.5" />
<path d="M572.5,815.5 Q575,818.5 579.7,819 Q582,822 584.5,822 L597,822 Q599.5,822 602,819 Q606.5,818.5 609.2,815.5" fill="none" stroke="#000" stroke-width="1.4" />
<ellipse cx="671" cy="796.2" rx="16.8" ry="6.4" fill="#fff" stroke="#8f8f8f" stroke-width="1.4" />
<path d="M654.2,796.2 L654.2,812 Q671,819 687.8,812 L687.8,796.2" fill="#fff" stroke="#8f8f8f" stroke-width="1.4" />
<ellipse cx="671.5" cy="803.5" rx="13" ry="4.3" fill="#fff" stroke="#8f8f8f" stroke-width="1.2" />
<path d="M656.5,812 L656.5,849 M686.5,812 L686.5,849" fill="none" stroke="#8f8f8f" stroke-width="1.5" />
<path d="M654.8,848.5 Q671,855 687.3,848.5 L687.3,861 Q671,868 654.8,861 Z" fill="#fff" stroke="#8f8f8f" stroke-width="1.4" />
<path d="M660.5,793 L660.5,805 M666,791 L666,804 M676,791 L676,804 M682,793 L682,805 M659,812 L659,816 M663.5,814 L663.5,818 M671,814.5 L671,819 M679,814 L679,818 M683.5,812 L683.5,816" fill="none" stroke="#8f8f8f" stroke-width="1" />
<path d="M661,852 L661,864 M667,853.5 L667,866 M677,853.5 L677,866 M682.5,852 L682.5,864" fill="none" stroke="#8f8f8f" stroke-width="1" />
<ellipse cx="660.8" cy="822.7" rx="2.5" ry="3.6" fill="none" stroke="#8f8f8f" stroke-width="1.3" transform="rotate(-10 660.8 822.7)" />
<ellipse cx="660.8" cy="845" rx="2.8" ry="3.6" fill="none" stroke="#8f8f8f" stroke-width="1.3" transform="rotate(-10 660.8 845)" />
<path d="M675.5,836 C679,833 683,833 685,834 M680,820 l2,0 M680,847 l2,-1" fill="none" stroke="#8f8f8f" stroke-width="2" />
<ellipse cx="760" cy="824" rx="14" ry="30.5" fill="#fff" stroke="#000" stroke-width="1.7" transform="rotate(-34 760 824)" />
<polygon points="776.5,849.6 764.5,856.1 731.5,804.9 743.5,798.4" fill="#fff" stroke="none" stroke-width="0" stroke-linejoin="miter"/>
<line x1="776.5" y1="849.6" x2="764.5" y2="856.1" stroke="#000" stroke-width="1.7" stroke-linecap="butt"/>
<line x1="743.5" y1="798.4" x2="731.5" y2="804.9" stroke="#000" stroke-width="1.7" stroke-linecap="butt"/>
<ellipse cx="748" cy="830.5" rx="14" ry="30.5" fill="#fff" stroke="#000" stroke-width="1.7" transform="rotate(-34 748 830.5)" />
<path d="M748,801.5 C758,797 770,800 776,810 C781,820 782,838 776,850" fill="none" stroke="#222" stroke-width="3.6" stroke-dasharray="2.2 1.3"/>
<ellipse cx="748" cy="830.5" rx="14" ry="30.5" fill="none" stroke="#000" stroke-width="1.8" transform="rotate(-34 748 830.5)" />
<ellipse cx="754" cy="827" rx="11" ry="26" fill="none" stroke="#000" stroke-width="1.2" transform="rotate(-30 754 827)" />
<path d="M752,802 L758,803 M760,806 L765,812 M770,822 L772,829 M771,835 L772,842" fill="none" stroke="#111" stroke-width="2.2" />
<ellipse cx="857" cy="798.5" rx="9" ry="13.2" fill="#999" stroke="#888" stroke-width="1.3" transform="rotate(-20 857 798.5)" />
<polygon points="862.5,810.5 848.5,818.5 837.5,794.5 851.5,786.5" fill="url(#gknurl)" stroke="none" stroke-width="0" stroke-linejoin="miter"/>
<line x1="862.5" y1="810.5" x2="848.5" y2="818.5" stroke="#888" stroke-width="1.3" stroke-linecap="butt"/>
<line x1="851.5" y1="786.5" x2="837.5" y2="794.5" stroke="#888" stroke-width="1.3" stroke-linecap="butt"/>
<ellipse cx="843" cy="806.5" rx="9" ry="13.2" fill="url(#gknurl)" stroke="#888" stroke-width="1.3" transform="rotate(-20 843 806.5)" />
<ellipse cx="844" cy="806" rx="10" ry="14" fill="#fff" stroke="#888" stroke-width="1.3" transform="rotate(-20 844 806)" />
<polygon points="850,818.6 839,825.1 827,799.9 838,793.4" fill="#fff" stroke="none" stroke-width="0" stroke-linejoin="miter"/>
<line x1="850" y1="818.6" x2="839" y2="825.1" stroke="#888" stroke-width="1.3" stroke-linecap="butt"/>
<line x1="838" y1="793.4" x2="827" y2="799.9" stroke="#888" stroke-width="1.3" stroke-linecap="butt"/>
<ellipse cx="833" cy="812.5" rx="10" ry="14" fill="#fff" stroke="#888" stroke-width="1.3" transform="rotate(-20 833 812.5)" />
<path d="M835,800 L840,816 M830,805 L835,822 M838,812 L841,820" fill="none" stroke="#999" stroke-width="2.5" />
<ellipse cx="831" cy="814" rx="7.2" ry="9.5" fill="#fff" stroke="#888" stroke-width="1.3" transform="rotate(-20 831 814)" />
<polygon points="835,822.6 821,830.1 813,812.9 827,805.4" fill="#fff" stroke="none" stroke-width="0" stroke-linejoin="miter"/>
<line x1="835" y1="822.6" x2="821" y2="830.1" stroke="#888" stroke-width="1.3" stroke-linecap="butt"/>
<line x1="827" y1="805.4" x2="813" y2="812.9" stroke="#888" stroke-width="1.3" stroke-linecap="butt"/>
<ellipse cx="817" cy="821.5" rx="7.2" ry="9.5" fill="#fff" stroke="#888" stroke-width="1.3" transform="rotate(-20 817 821.5)" />
<ellipse cx="817" cy="821.5" rx="7.5" ry="9.8" fill="#fff" stroke="#888" stroke-width="1.3" transform="rotate(-20 817 821.5)" />
<polygon points="821.3,830.2 809.9,837 801.3,819.6 812.7,812.8" fill="#999" stroke="none" stroke-width="0" stroke-linejoin="miter"/>
<line x1="821.3" y1="830.2" x2="809.9" y2="837" stroke="#888" stroke-width="1.3" stroke-linecap="butt"/>
<line x1="812.7" y1="812.8" x2="801.3" y2="819.6" stroke="#888" stroke-width="1.3" stroke-linecap="butt"/>
<ellipse cx="805.6" cy="828.3" rx="7.5" ry="9.8" fill="#999" stroke="#888" stroke-width="1.3" transform="rotate(-20 805.6 828.3)" />
<ellipse cx="805.6" cy="828.3" rx="5.2" ry="7.2" fill="#fff" stroke="#888" stroke-width="1" transform="rotate(-20 805.6 828.3)" />
<path d="M804,825 C803,828 804,831 806.5,832" fill="none" stroke="#888" stroke-width="1.1" />
<line x1="968.6" y1="781" x2="1012.6" y2="758" stroke="#aaa" stroke-width="1" stroke-linecap="butt"/>
<line x1="968.6" y1="854" x2="1012.6" y2="831" stroke="#aaa" stroke-width="1" stroke-linecap="butt"/>
<g transform="translate(1022.8,759.5) rotate(33) scale(0.95)">
<rect x="-14" y="-3" width="5" height="6" fill="#fff" stroke="#000" stroke-width="0.9" />
<line x1="-16.5" y1="-5" x2="-14" y2="-3" stroke="#aaa" stroke-width="0.8" stroke-linecap="butt"/>
<path d="M-9,-6.5 Q-9,-7.5 -6,-7.5 L7,-7.5 A3.6,7.5 0 0 1 7,7.5 L-6,7.5 Q-9,7.5 -9,6.5 Z" fill="#111" stroke="#000" stroke-width="1" />
<path d="M-5.5,-7 A2.2,7 0 0 1 -5.5,7" fill="none" stroke="#fff" stroke-width="1.2" />
<path d="M-2,-7 A2.2,7 0 0 1 -2,7" fill="none" stroke="#fff" stroke-width="1.2" />
<path d="M1.5,-7 A2.2,7 0 0 1 1.5,7" fill="none" stroke="#fff" stroke-width="1.2" />
<ellipse cx="7" cy="0" rx="3.4" ry="7.2" fill="#fff" stroke="#000" stroke-width="1" />
<ellipse cx="7.3" cy="0" rx="1.6" ry="3.6" fill="#fff" stroke="#000" stroke-width="1" />
</g>
<g transform="translate(970.3,790) rotate(33) scale(0.95)">
<rect x="-14" y="-3" width="5" height="6" fill="#fff" stroke="#000" stroke-width="0.9" />
<line x1="-16.5" y1="-5" x2="-14" y2="-3" stroke="#aaa" stroke-width="0.8" stroke-linecap="butt"/>
<path d="M-9,-6.5 Q-9,-7.5 -6,-7.5 L7,-7.5 A3.6,7.5 0 0 1 7,7.5 L-6,7.5 Q-9,7.5 -9,6.5 Z" fill="#111" stroke="#000" stroke-width="1" />
<path d="M-5.5,-7 A2.2,7 0 0 1 -5.5,7" fill="none" stroke="#fff" stroke-width="1.2" />
<path d="M-2,-7 A2.2,7 0 0 1 -2,7" fill="none" stroke="#fff" stroke-width="1.2" />
<path d="M1.5,-7 A2.2,7 0 0 1 1.5,7" fill="none" stroke="#fff" stroke-width="1.2" />
<ellipse cx="7" cy="0" rx="3.4" ry="7.2" fill="#fff" stroke="#000" stroke-width="1" />
<ellipse cx="7.3" cy="0" rx="1.6" ry="3.6" fill="#fff" stroke="#000" stroke-width="1" />
</g>
<g transform="translate(1022.4,832.5) rotate(33) scale(0.95)">
<rect x="-14" y="-3" width="5" height="6" fill="#fff" stroke="#000" stroke-width="0.9" />
<line x1="-16.5" y1="-5" x2="-14" y2="-3" stroke="#aaa" stroke-width="0.8" stroke-linecap="butt"/>
<path d="M-9,-6.5 Q-9,-7.5 -6,-7.5 L7,-7.5 A3.6,7.5 0 0 1 7,7.5 L-6,7.5 Q-9,7.5 -9,6.5 Z" fill="#111" stroke="#000" stroke-width="1" />
<path d="M-5.5,-7 A2.2,7 0 0 1 -5.5,7" fill="none" stroke="#fff" stroke-width="1.2" />
<path d="M-2,-7 A2.2,7 0 0 1 -2,7" fill="none" stroke="#fff" stroke-width="1.2" />
<path d="M1.5,-7 A2.2,7 0 0 1 1.5,7" fill="none" stroke="#fff" stroke-width="1.2" />
<ellipse cx="7" cy="0" rx="3.4" ry="7.2" fill="#fff" stroke="#000" stroke-width="1" />
<ellipse cx="7.3" cy="0" rx="1.6" ry="3.6" fill="#fff" stroke="#000" stroke-width="1" />
</g>
<g transform="translate(970.3,862.5) rotate(33) scale(0.95)">
<rect x="-14" y="-3" width="5" height="6" fill="#fff" stroke="#000" stroke-width="0.9" />
<line x1="-16.5" y1="-5" x2="-14" y2="-3" stroke="#aaa" stroke-width="0.8" stroke-linecap="butt"/>
<path d="M-9,-6.5 Q-9,-7.5 -6,-7.5 L7,-7.5 A3.6,7.5 0 0 1 7,7.5 L-6,7.5 Q-9,7.5 -9,6.5 Z" fill="#111" stroke="#000" stroke-width="1" />
<path d="M-5.5,-7 A2.2,7 0 0 1 -5.5,7" fill="none" stroke="#fff" stroke-width="1.2" />
<path d="M-2,-7 A2.2,7 0 0 1 -2,7" fill="none" stroke="#fff" stroke-width="1.2" />
<path d="M1.5,-7 A2.2,7 0 0 1 1.5,7" fill="none" stroke="#fff" stroke-width="1.2" />
<ellipse cx="7" cy="0" rx="3.4" ry="7.2" fill="#fff" stroke="#000" stroke-width="1" />
<ellipse cx="7.3" cy="0" rx="1.6" ry="3.6" fill="#fff" stroke="#000" stroke-width="1" />
</g>
<path d="M1036.8000000000002,768.2 L1036.8000000000002,747.3000000000001 A4.1,4.1 0 0 1 1045.0,747.3000000000001 L1045.0,768.2" fill="#fff" stroke="#000" stroke-width="1.4" />
<line x1="1040.9" y1="746.2" x2="1040.9" y2="769.2" stroke="#000" stroke-width="1.6" stroke-linecap="butt"/>
<line x1="1038.7" y1="748.2" x2="1043.1" y2="748.2" stroke="#000" stroke-width="1.1" stroke-linecap="butt"/>
<line x1="1038.7" y1="752.4" x2="1043.1" y2="752.4" stroke="#000" stroke-width="1.1" stroke-linecap="butt"/>
<line x1="1038.7" y1="756.6" x2="1043.1" y2="756.6" stroke="#000" stroke-width="1.1" stroke-linecap="butt"/>
<line x1="1038.7" y1="760.8" x2="1043.1" y2="760.8" stroke="#000" stroke-width="1.1" stroke-linecap="butt"/>
<line x1="1038.7" y1="765" x2="1043.1" y2="765" stroke="#000" stroke-width="1.1" stroke-linecap="butt"/>
<ellipse cx="1040.9" cy="774.2" rx="6.8" ry="6.8" fill="#000" stroke="none" stroke-width="0" />
<path d="M988.0,796.3 L988.0,776.4 A4.1,4.1 0 0 1 996.2,776.4 L996.2,796.3" fill="#fff" stroke="#000" stroke-width="1.4" />
<rect x="988" y="779.8" width="8.2" height="16.5" fill="#000" stroke="none" stroke-width="0" />
<line x1="992.1" y1="774.8" x2="992.1" y2="779.8" stroke="#000" stroke-width="1.1" stroke-linecap="butt"/>
<line x1="990.1" y1="776.8" x2="994.1" y2="776.8" stroke="#000" stroke-width="1.1" stroke-linecap="butt"/>
<ellipse cx="992.1" cy="802.3" rx="6.8" ry="6.8" fill="#000" stroke="none" stroke-width="0" />
<path d="M1037.1000000000001,842 L1037.1000000000001,821.1 A4.1,4.1 0 0 1 1045.3,821.1 L1045.3,842" fill="#fff" stroke="#000" stroke-width="1.4" />
<rect x="1037.1" y="824.5" width="8.2" height="17.5" fill="#000" stroke="none" stroke-width="0" />
<line x1="1041.2" y1="819.5" x2="1041.2" y2="824.5" stroke="#000" stroke-width="1.1" stroke-linecap="butt"/>
<line x1="1039.2" y1="821.5" x2="1043.2" y2="821.5" stroke="#000" stroke-width="1.1" stroke-linecap="butt"/>
<ellipse cx="1041.2" cy="848" rx="6.8" ry="6.8" fill="#000" stroke="none" stroke-width="0" />
<path d="M988.4,869.3 L988.4,849.4 A4.1,4.1 0 0 1 996.6,849.4 L996.6,869.3" fill="#fff" stroke="#000" stroke-width="1.4" />
<line x1="992.5" y1="848.3" x2="992.5" y2="870.3" stroke="#000" stroke-width="1.6" stroke-linecap="butt"/>
<line x1="990.3" y1="850.3" x2="994.7" y2="850.3" stroke="#000" stroke-width="1.1" stroke-linecap="butt"/>
<line x1="990.3" y1="854.5" x2="994.7" y2="854.5" stroke="#000" stroke-width="1.1" stroke-linecap="butt"/>
<line x1="990.3" y1="858.7" x2="994.7" y2="858.7" stroke="#000" stroke-width="1.1" stroke-linecap="butt"/>
<line x1="990.3" y1="862.9" x2="994.7" y2="862.9" stroke="#000" stroke-width="1.1" stroke-linecap="butt"/>
<line x1="990.3" y1="867.1" x2="994.7" y2="867.1" stroke="#000" stroke-width="1.1" stroke-linecap="butt"/>
<ellipse cx="992.5" cy="875.3" rx="6.8" ry="6.8" fill="#000" stroke="none" stroke-width="0" />
<path d="M1087.5,781 L1100,775.5 L1113.2,780 L1113.2,815 L1100.5,822.5 L1087.5,817 Z" fill="#fff" stroke="#8f8f8f" stroke-width="1.3" />
<path d="M1087.5,781 L1100,786 L1113.2,780 M1100,786 L1100,822" fill="none" stroke="#8f8f8f" stroke-width="1.2" />
<path d="M1102,789 L1111,785 L1111,813.5 L1102,818 Z" fill="#eee" stroke="#8f8f8f" stroke-width="1.2" />
<path d="M1104,792 L1109,790 L1109,811 L1104,813.5 Z" fill="none" stroke="#8f8f8f" stroke-width="1" />
<ellipse cx="1106.5" cy="798" rx="1.8" ry="2" fill="none" stroke="#8f8f8f" stroke-width="1" />
<g transform="translate(1114,807) rotate(28.3)">
<path d="M0,0 L6,-1.5 L82,-1.5 L82,1.5 L6,1.5 Z" fill="#fff" stroke="#8f8f8f" stroke-width="1.1" />
<path d="M7.0,-1.5 l1.5,3 M10.0,-1.5 l1.5,3 M13.0,-1.5 l1.5,3 M16.0,-1.5 l1.5,3 M19.0,-1.5 l1.5,3 M22.0,-1.5 l1.5,3 M25.0,-1.5 l1.5,3 M28.0,-1.5 l1.5,3 M31.0,-1.5 l1.5,3 M34.0,-1.5 l1.5,3 M37.0,-1.5 l1.5,3 M40.0,-1.5 l1.5,3 M43.0,-1.5 l1.5,3 M46.0,-1.5 l1.5,3 M49.0,-1.5 l1.5,3 M52.0,-1.5 l1.5,3 M55.0,-1.5 l1.5,3 M58.0,-1.5 l1.5,3 M61.0,-1.5 l1.5,3 M64.0,-1.5 l1.5,3 M67.0,-1.5 l1.5,3" fill="none" stroke="#8f8f8f" stroke-width="1" />
<ellipse cx="84" cy="0" rx="2.8" ry="4.3" fill="#fff" stroke="#8f8f8f" stroke-width="1.2" />
</g>
<clipPath id="hc2"><path d="M1233.8,741 L1251.7,741 L1251.7,839.6 L1262.2,851.6 L1262.2,880 L1233.8,880 Z"/></clipPath>
<g clip-path="url(#hc2)"><path d="M1080.0,885 L1230.0,735 M1088.5,885 L1238.5,735 M1097.0,885 L1247.0,735 M1105.5,885 L1255.5,735 M1114.0,885 L1264.0,735 M1122.5,885 L1272.5,735 M1131.0,885 L1281.0,735 M1139.5,885 L1289.5,735 M1148.0,885 L1298.0,735 M1156.5,885 L1306.5,735 M1165.0,885 L1315.0,735 M1173.5,885 L1323.5,735 M1182.0,885 L1332.0,735 M1190.5,885 L1340.5,735 M1199.0,885 L1349.0,735 M1207.5,885 L1357.5,735 M1216.0,885 L1366.0,735 M1224.5,885 L1374.5,735 M1233.0,885 L1383.0,735 M1241.5,885 L1391.5,735 M1250.0,885 L1400.0,735 M1258.5,885 L1408.5,735 M1267.0,885 L1417.0,735 M1275.5,885 L1425.5,735" stroke="#555" stroke-width="1.3"/></g>
<polyline points="1251.7,741.3 1251.7,839.6 1262.2,851.6 1262.2,880" fill="none" stroke="#000" stroke-width="1.8" stroke-linejoin="miter"/>
<line x1="1258.5" y1="720.6" x2="1258.5" y2="775" stroke="#000" stroke-width="1.2" stroke-linecap="butt"/>
<line x1="1267.7" y1="720.6" x2="1267.7" y2="775" stroke="#000" stroke-width="1.2" stroke-linecap="butt"/>
<line x1="1218.6" y1="730.4" x2="1258.5" y2="730.4" stroke="#000" stroke-width="1.2" stroke-linecap="butt"/>
<line x1="1267.7" y1="730.4" x2="1347.4" y2="730.4" stroke="#000" stroke-width="1.2" stroke-linecap="butt"/>
<polygon points="1238.5,726.6 1258.5,730.4 1238.5,734.2" fill="#000" stroke="#000" stroke-width="0.5" stroke-linejoin="miter"/>
<polygon points="1288,726.6 1267.7,730.4 1288,734.2" fill="#000" stroke="#000" stroke-width="0.5" stroke-linejoin="miter"/>
<rect x="1258.5" y="773" width="9" height="39.5" fill="#fff" stroke="#999" stroke-width="1.3" />
<rect x="1267.5" y="776" width="2.5" height="33" fill="#ddd" stroke="#999" stroke-width="1" />
<line x1="1252" y1="790.9" x2="1258" y2="790.9" stroke="#aaa" stroke-width="1" stroke-linecap="butt"/>
<line x1="1270" y1="790.9" x2="1275" y2="790.9" stroke="#aaa" stroke-width="1" stroke-linecap="butt"/>
<rect x="1275.3" y="773" width="74.9" height="40.4" fill="#fff" stroke="#000" stroke-width="1.8" />
<line x1="1319" y1="773" x2="1319" y2="813.4" stroke="#000" stroke-width="1.3" stroke-linecap="butt"/>
<path d="M1320.5,773 L1320.5,764.5 Q1332.5,762 1344.5,764.5 L1344.5,773" fill="#fff" stroke="#000" stroke-width="1.6" />
<line x1="1320.5" y1="767.5" x2="1344.5" y2="767.5" stroke="#000" stroke-width="1.2" stroke-linecap="butt"/>
<path d="M1320.5,813.4 L1320.5,845 Q1332.5,849 1344.5,845 L1344.5,813.4" fill="#fff" stroke="#000" stroke-width="1.6" />
</g>
</svg>
</body></html>
